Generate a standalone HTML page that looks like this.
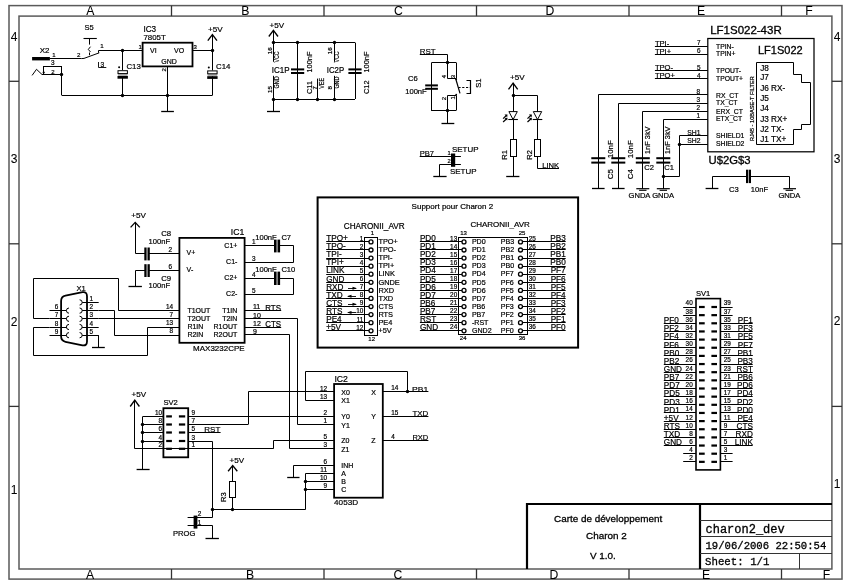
<!DOCTYPE html><html><head><meta charset="utf-8"><style>
html,body{margin:0;padding:0;background:#fff;}
svg{display:block;}
svg{will-change:transform;}
</style></head><body>
<svg width="850" height="587" viewBox="0 0 850 587">
<rect width="850" height="587" fill="#fff"/>
<rect x="9.00" y="5.60" width="833.00" height="573.50" fill="none" stroke="#5a5a5a" stroke-width="1.5"/>
<rect x="19.00" y="16.10" width="812.90" height="552.90" fill="none" stroke="#5a5a5a" stroke-width="1.5"/>
<line x1="171.5" y1="5.6" x2="171.5" y2="16.1" stroke="#333" stroke-width="1.3"/>
<line x1="171.5" y1="569" x2="171.5" y2="579.1" stroke="#333" stroke-width="1.3"/>
<line x1="324" y1="5.6" x2="324" y2="16.1" stroke="#333" stroke-width="1.3"/>
<line x1="324" y1="569" x2="324" y2="579.1" stroke="#333" stroke-width="1.3"/>
<line x1="476.5" y1="5.6" x2="476.5" y2="16.1" stroke="#333" stroke-width="1.3"/>
<line x1="476.5" y1="569" x2="476.5" y2="579.1" stroke="#333" stroke-width="1.3"/>
<line x1="629" y1="5.6" x2="629" y2="16.1" stroke="#333" stroke-width="1.3"/>
<line x1="629" y1="569" x2="629" y2="579.1" stroke="#333" stroke-width="1.3"/>
<line x1="781.5" y1="5.6" x2="781.5" y2="16.1" stroke="#333" stroke-width="1.3"/>
<line x1="781.5" y1="569" x2="781.5" y2="579.1" stroke="#333" stroke-width="1.3"/>
<line x1="9" y1="81.3" x2="19" y2="81.3" stroke="#333" stroke-width="1.3"/>
<line x1="831.9" y1="81.3" x2="842" y2="81.3" stroke="#333" stroke-width="1.3"/>
<line x1="9" y1="243.8" x2="19" y2="243.8" stroke="#333" stroke-width="1.3"/>
<line x1="831.9" y1="243.8" x2="842" y2="243.8" stroke="#333" stroke-width="1.3"/>
<line x1="9" y1="406.4" x2="19" y2="406.4" stroke="#333" stroke-width="1.3"/>
<line x1="831.9" y1="406.4" x2="842" y2="406.4" stroke="#333" stroke-width="1.3"/>
<text x="90.30" y="15.40" font-size="12.2" font-family="Liberation Sans" text-anchor="middle" fill="#000" stroke="#000" stroke-width="0.05">A</text>
<text x="245.20" y="15.40" font-size="12.2" font-family="Liberation Sans" text-anchor="middle" fill="#000" stroke="#000" stroke-width="0.05">B</text>
<text x="398.50" y="15.40" font-size="12.2" font-family="Liberation Sans" text-anchor="middle" fill="#000" stroke="#000" stroke-width="0.05">C</text>
<text x="550.00" y="15.40" font-size="12.2" font-family="Liberation Sans" text-anchor="middle" fill="#000" stroke="#000" stroke-width="0.05">D</text>
<text x="701.00" y="15.40" font-size="12.2" font-family="Liberation Sans" text-anchor="middle" fill="#000" stroke="#000" stroke-width="0.05">E</text>
<text x="809.00" y="15.40" font-size="12.2" font-family="Liberation Sans" text-anchor="middle" fill="#000" stroke="#000" stroke-width="0.05">F</text>
<text x="90.00" y="578.80" font-size="12.2" font-family="Liberation Sans" text-anchor="middle" fill="#000" stroke="#000" stroke-width="0.05">A</text>
<text x="250.00" y="578.80" font-size="12.2" font-family="Liberation Sans" text-anchor="middle" fill="#000" stroke="#000" stroke-width="0.05">B</text>
<text x="398.00" y="578.80" font-size="12.2" font-family="Liberation Sans" text-anchor="middle" fill="#000" stroke="#000" stroke-width="0.05">C</text>
<text x="554.00" y="578.80" font-size="12.2" font-family="Liberation Sans" text-anchor="middle" fill="#000" stroke="#000" stroke-width="0.05">D</text>
<text x="706.00" y="578.80" font-size="12.2" font-family="Liberation Sans" text-anchor="middle" fill="#000" stroke="#000" stroke-width="0.05">E</text>
<text x="826.50" y="578.80" font-size="12.2" font-family="Liberation Sans" text-anchor="middle" fill="#000" stroke="#000" stroke-width="0.05">F</text>
<text x="14.20" y="41.40" font-size="12" font-family="Liberation Sans" text-anchor="middle" fill="#000" stroke="#000" stroke-width="0.05">4</text>
<text x="14.20" y="163.00" font-size="12" font-family="Liberation Sans" text-anchor="middle" fill="#000" stroke="#000" stroke-width="0.05">3</text>
<text x="14.20" y="325.80" font-size="12" font-family="Liberation Sans" text-anchor="middle" fill="#000" stroke="#000" stroke-width="0.05">2</text>
<text x="14.20" y="494.00" font-size="12" font-family="Liberation Sans" text-anchor="middle" fill="#000" stroke="#000" stroke-width="0.05">1</text>
<text x="837.20" y="41.20" font-size="12" font-family="Liberation Sans" text-anchor="middle" fill="#000" stroke="#000" stroke-width="0.05">4</text>
<text x="837.20" y="162.80" font-size="12" font-family="Liberation Sans" text-anchor="middle" fill="#000" stroke="#000" stroke-width="0.05">3</text>
<text x="837.20" y="324.80" font-size="12" font-family="Liberation Sans" text-anchor="middle" fill="#000" stroke="#000" stroke-width="0.05">2</text>
<text x="837.20" y="487.70" font-size="12" font-family="Liberation Sans" text-anchor="middle" fill="#000" stroke="#000" stroke-width="0.05">1</text>
<line x1="526.00" y1="504.00" x2="832.00" y2="504.00" stroke="#000" stroke-width="2.2"/>
<line x1="527.00" y1="503.00" x2="527.00" y2="569.00" stroke="#000" stroke-width="2.2"/>
<line x1="700.00" y1="503.00" x2="700.00" y2="569.00" stroke="#000" stroke-width="2.2"/>
<line x1="700.00" y1="520.50" x2="832.00" y2="520.50" stroke="#333" stroke-width="1.0"/>
<line x1="700.00" y1="536.50" x2="832.00" y2="536.50" stroke="#333" stroke-width="1.0"/>
<line x1="700.00" y1="553.50" x2="832.00" y2="553.50" stroke="#333" stroke-width="1.0"/>
<line x1="799.50" y1="553.00" x2="799.50" y2="569.00" stroke="#333" stroke-width="1.0"/>
<text x="608.10" y="522.30" font-size="9.9" font-family="Liberation Sans" text-anchor="middle" fill="#000" stroke="#000" stroke-width="0.3">Carte de développement</text>
<text x="606.40" y="538.70" font-size="9.9" font-family="Liberation Sans" text-anchor="middle" fill="#000" stroke="#000" stroke-width="0.3">Charon 2</text>
<text x="602.80" y="558.70" font-size="9.9" font-family="Liberation Sans" text-anchor="middle" fill="#000" stroke="#000" stroke-width="0.3">V 1.0.</text>
<text x="705.50" y="533.00" font-size="12" font-family="Liberation Mono" text-anchor="start" fill="#000" stroke="#000" stroke-width="0.3">charon2_dev</text>
<text x="705.50" y="549.00" font-size="10.6" font-family="Liberation Mono" text-anchor="start" fill="#000" stroke="#000" stroke-width="0.3">19/06/2006 22:50:54</text>
<text x="705.00" y="565.20" font-size="11.8" font-family="Liberation Mono" text-anchor="start" fill="#000" textLength="64.5" lengthAdjust="spacingAndGlyphs" stroke="#000" stroke-width="0.3">Sheet: 1/1</text>
<rect x="32.10" y="57.00" width="17.80" height="3.40" fill="#000"/>
<line x1="49.90" y1="58.50" x2="81.50" y2="58.50" stroke="#000" stroke-width="1.0"/>
<text x="39.70" y="53.40" font-size="7.8" font-family="Liberation Sans" text-anchor="start" fill="#000" textLength="9.7" lengthAdjust="spacingAndGlyphs" stroke="#000" stroke-width="0.2">X2</text>
<text x="52.20" y="56.70" font-size="6" font-family="Liberation Sans" text-anchor="start" fill="#000" stroke="#000" stroke-width="0.2">1</text>
<rect x="43.50" y="66.50" width="18.00" height="8.00" fill="none" stroke="#000" stroke-width="1.0"/>
<text x="52.90" y="65.20" font-size="6.4" font-family="Liberation Sans" text-anchor="middle" fill="#000" stroke="#000" stroke-width="0.2">3</text>
<text x="52.90" y="73.60" font-size="6" font-family="Liberation Sans" text-anchor="middle" fill="#000" stroke="#000" stroke-width="0.2">2</text>
<polyline points="32.10,75.40 36.50,69.30 42.00,74.50 43.70,74.50" fill="none" stroke="#000" stroke-width="1.0"/>
<circle cx="43.70" cy="72.50" r="1.1" fill="#000"/>
<circle cx="61.50" cy="74.50" r="1.7" fill="#000"/>
<line x1="61.50" y1="74.90" x2="61.50" y2="95.20" stroke="#000" stroke-width="1.0"/>
<line x1="61.70" y1="95.50" x2="212.40" y2="95.50" stroke="#000" stroke-width="1.0"/>
<text x="84.40" y="30.40" font-size="7.8" font-family="Liberation Sans" text-anchor="start" fill="#000" textLength="9.2" lengthAdjust="spacingAndGlyphs" stroke="#000" stroke-width="0.2">S5</text>
<line x1="83.50" y1="38.50" x2="96.80" y2="38.50" stroke="#000" stroke-width="1.1"/>
<line x1="89.50" y1="38.30" x2="89.50" y2="44.60" stroke="#000" stroke-width="1.0"/>
<polyline points="90.50,46.70 88.30,49.40 90.50,52.00" fill="none" stroke="#000" stroke-width="1.0"/>
<line x1="89.50" y1="52.50" x2="89.50" y2="55.20" stroke="#000" stroke-width="1.0"/>
<polyline points="81.50,58.60 84.00,58.40 99.30,52.80" fill="none" stroke="#000" stroke-width="1.0"/>
<polyline points="98.50,52.80 98.50,50.50 122.70,50.50" fill="none" stroke="#000" stroke-width="1.0"/>
<text x="77.00" y="56.90" font-size="6.2" font-family="Liberation Sans" text-anchor="start" fill="#000" stroke="#000" stroke-width="0.2">2</text>
<text x="100.20" y="48.40" font-size="6.2" font-family="Liberation Sans" text-anchor="start" fill="#000" stroke="#000" stroke-width="0.2">1</text>
<polyline points="98.50,62.00 98.50,67.50 106.30,67.50" fill="none" stroke="#000" stroke-width="0.9"/>
<text x="100.40" y="66.60" font-size="6.6" font-family="Liberation Sans" text-anchor="start" fill="#000" stroke="#000" stroke-width="0.2">3</text>
<circle cx="122.50" cy="50.50" r="1.7" fill="#000"/>
<line x1="122.70" y1="50.50" x2="142.60" y2="50.50" stroke="#000" stroke-width="1.0"/>
<rect x="142.60" y="42.70" width="49.90" height="23.70" fill="none" stroke="#000" stroke-width="1.8"/>
<text x="143.40" y="31.70" font-size="8.2" font-family="Liberation Sans" text-anchor="start" fill="#000" stroke="#000" stroke-width="0.2">IC3</text>
<text x="143.40" y="39.90" font-size="8.0" font-family="Liberation Sans" text-anchor="start" fill="#000" textLength="22.3" lengthAdjust="spacingAndGlyphs" stroke="#000" stroke-width="0.2">7805T</text>
<text x="150.00" y="53.00" font-size="7" font-family="Liberation Sans" text-anchor="start" fill="#000" stroke="#000" stroke-width="0.2">VI</text>
<text x="174.00" y="53.00" font-size="7" font-family="Liberation Sans" text-anchor="start" fill="#000" stroke="#000" stroke-width="0.2">VO</text>
<text x="161.30" y="64.40" font-size="7" font-family="Liberation Sans" text-anchor="start" fill="#000" stroke="#000" stroke-width="0.2">GND</text>
<text x="138.60" y="48.80" font-size="6" font-family="Liberation Sans" text-anchor="start" fill="#000" stroke="#000" stroke-width="0.2">1</text>
<text x="193.60" y="48.80" font-size="6" font-family="Liberation Sans" text-anchor="start" fill="#000" stroke="#000" stroke-width="0.2">3</text>
<text x="166.30" y="71.60" font-size="6" font-family="Liberation Sans" text-anchor="start" fill="#000" transform="rotate(-90 166.30 71.60)" stroke="#000" stroke-width="0.2">2</text>
<line x1="192.50" y1="50.50" x2="212.40" y2="50.50" stroke="#000" stroke-width="1.0"/>
<circle cx="212.50" cy="50.50" r="1.7" fill="#000"/>
<polyline points="207.80,40.70 212.40,34.60 217.00,40.70" fill="none" stroke="#000" stroke-width="1.35"/>
<text x="208.00" y="32.00" font-size="7.8" font-family="Liberation Sans" text-anchor="start" fill="#000" textLength="14.6" lengthAdjust="spacingAndGlyphs" stroke="#000" stroke-width="0.2">+5V</text>
<line x1="212.50" y1="34.60" x2="212.50" y2="95.20" stroke="#000" stroke-width="1.0"/>
<line x1="122.50" y1="50.50" x2="122.50" y2="95.20" stroke="#000" stroke-width="1.0"/>
<line x1="212.50" y1="50.50" x2="212.50" y2="95.20" stroke="#000" stroke-width="1.0"/>
<rect x="117.40" y="70.20" width="10.60" height="5.80" fill="#fff"/>
<rect x="117.90" y="73.60" width="9.60" height="2.40" fill="#b0b0b0"/>
<rect x="118.00" y="70.70" width="9.4" height="2.9" fill="none" stroke="#000" stroke-width="1.0"/>
<rect x="117.50" y="76.00" width="10.40" height="2.70" fill="#000"/>
<circle cx="119.10" cy="67.20" r="1.0" fill="#000"/>
<rect x="207.10" y="70.40" width="10.60" height="5.80" fill="#fff"/>
<rect x="207.60" y="73.80" width="9.60" height="2.40" fill="#b0b0b0"/>
<rect x="207.70" y="70.90" width="9.4" height="2.9" fill="none" stroke="#000" stroke-width="1.0"/>
<rect x="207.20" y="76.20" width="10.40" height="2.70" fill="#000"/>
<circle cx="208.80" cy="67.40" r="1.0" fill="#000"/>
<text x="126.40" y="69.00" font-size="8.0" font-family="Liberation Sans" text-anchor="start" fill="#000" textLength="14.4" lengthAdjust="spacingAndGlyphs" stroke="#000" stroke-width="0.2">C13</text>
<text x="216.00" y="69.00" font-size="8.0" font-family="Liberation Sans" text-anchor="start" fill="#000" textLength="14.4" lengthAdjust="spacingAndGlyphs" stroke="#000" stroke-width="0.2">C14</text>
<line x1="167.50" y1="66.40" x2="167.50" y2="111.40" stroke="#000" stroke-width="1.0"/>
<circle cx="122.50" cy="95.50" r="1.7" fill="#000"/>
<circle cx="167.50" cy="95.50" r="1.7" fill="#000"/>
<line x1="161.20" y1="111.50" x2="173.90" y2="111.50" stroke="#000" stroke-width="1.3"/>
<polyline points="268.80,36.50 273.40,30.30 278.00,36.50" fill="none" stroke="#000" stroke-width="1.35"/>
<text x="269.60" y="27.60" font-size="7.8" font-family="Liberation Sans" text-anchor="start" fill="#000" textLength="14.6" lengthAdjust="spacingAndGlyphs" stroke="#000" stroke-width="0.2">+5V</text>
<line x1="273.50" y1="30.30" x2="273.50" y2="61.80" stroke="#000" stroke-width="1.0"/>
<line x1="273.50" y1="75.80" x2="273.50" y2="111.00" stroke="#000" stroke-width="1.0"/>
<line x1="267.00" y1="111.50" x2="280.00" y2="111.50" stroke="#000" stroke-width="1.3"/>
<line x1="273.40" y1="42.50" x2="355.00" y2="42.50" stroke="#000" stroke-width="1.0"/>
<line x1="273.40" y1="99.50" x2="355.00" y2="99.50" stroke="#000" stroke-width="1.0"/>
<circle cx="273.50" cy="42.50" r="1.7" fill="#000"/>
<circle cx="297.50" cy="42.50" r="1.7" fill="#000"/>
<circle cx="334.50" cy="42.50" r="1.7" fill="#000"/>
<circle cx="273.50" cy="99.50" r="1.7" fill="#000"/>
<circle cx="297.50" cy="99.50" r="1.7" fill="#000"/>
<circle cx="317.50" cy="99.50" r="1.7" fill="#000"/>
<circle cx="334.50" cy="99.50" r="1.7" fill="#000"/>
<line x1="297.50" y1="42.60" x2="297.50" y2="99.00" stroke="#000" stroke-width="1.0"/>
<line x1="355.50" y1="42.60" x2="355.50" y2="99.00" stroke="#000" stroke-width="1.0"/>
<line x1="334.50" y1="42.60" x2="334.50" y2="61.80" stroke="#000" stroke-width="1.0"/>
<line x1="334.50" y1="75.80" x2="334.50" y2="99.00" stroke="#000" stroke-width="1.0"/>
<line x1="317.50" y1="78.60" x2="317.50" y2="99.00" stroke="#000" stroke-width="1.0"/>
<text x="271.70" y="72.80" font-size="8.4" font-family="Liberation Sans" text-anchor="start" fill="#000" textLength="17.8" lengthAdjust="spacingAndGlyphs" stroke="#000" stroke-width="0.2">IC1P</text>
<text x="326.80" y="72.80" font-size="8.4" font-family="Liberation Sans" text-anchor="start" fill="#000" textLength="17.4" lengthAdjust="spacingAndGlyphs" stroke="#000" stroke-width="0.2">IC2P</text>
<rect x="291.00" y="68.40" width="13.20" height="2.00" fill="#000"/>
<rect x="291.00" y="72.00" width="13.20" height="2.00" fill="#000"/>
<rect x="348.40" y="68.40" width="13.20" height="2.00" fill="#000"/>
<rect x="348.40" y="72.00" width="13.20" height="2.00" fill="#000"/>
<text x="271.80" y="54.30" font-size="6.2" font-family="Liberation Sans" text-anchor="start" fill="#000" transform="rotate(-90 271.80 54.30)" stroke="#000" stroke-width="0.2">16</text>
<text x="279.00" y="62.40" font-size="6.6" font-family="Liberation Sans" text-anchor="start" fill="#000" transform="rotate(-90 279.00 62.40)" textLength="11.0" lengthAdjust="spacingAndGlyphs" stroke="#000" stroke-width="0.2">VCC</text>
<text x="279.00" y="88.40" font-size="6.6" font-family="Liberation Sans" text-anchor="start" fill="#000" transform="rotate(-90 279.00 88.40)" textLength="12.0" lengthAdjust="spacingAndGlyphs" stroke="#000" stroke-width="0.2">GND</text>
<text x="271.80" y="93.00" font-size="6.2" font-family="Liberation Sans" text-anchor="start" fill="#000" transform="rotate(-90 271.80 93.00)" stroke="#000" stroke-width="0.2">15</text>
<text x="332.40" y="54.30" font-size="6.2" font-family="Liberation Sans" text-anchor="start" fill="#000" transform="rotate(-90 332.40 54.30)" stroke="#000" stroke-width="0.2">16</text>
<text x="339.40" y="62.40" font-size="6.6" font-family="Liberation Sans" text-anchor="start" fill="#000" transform="rotate(-90 339.40 62.40)" textLength="11.0" lengthAdjust="spacingAndGlyphs" stroke="#000" stroke-width="0.2">VCC</text>
<text x="339.40" y="88.60" font-size="6.6" font-family="Liberation Sans" text-anchor="start" fill="#000" transform="rotate(-90 339.40 88.60)" textLength="12.0" lengthAdjust="spacingAndGlyphs" stroke="#000" stroke-width="0.2">GND</text>
<text x="332.40" y="89.40" font-size="6.2" font-family="Liberation Sans" text-anchor="start" fill="#000" transform="rotate(-90 332.40 89.40)" stroke="#000" stroke-width="0.2">8</text>
<text x="312.00" y="72.50" font-size="7.4" font-family="Liberation Sans" text-anchor="start" fill="#000" transform="rotate(-90 312.00 72.50)" stroke="#000" stroke-width="0.2">100nF</text>
<text x="312.00" y="94.00" font-size="7.4" font-family="Liberation Sans" text-anchor="start" fill="#000" transform="rotate(-90 312.00 94.00)" stroke="#000" stroke-width="0.2">C11</text>
<text x="324.00" y="88.80" font-size="6.6" font-family="Liberation Sans" text-anchor="start" fill="#000" transform="rotate(-90 324.00 88.80)" textLength="10.8" lengthAdjust="spacingAndGlyphs" stroke="#000" stroke-width="0.2">VEE</text>
<text x="316.80" y="89.60" font-size="5.8" font-family="Liberation Sans" text-anchor="start" fill="#000" transform="rotate(-90 316.80 89.60)" stroke="#000" stroke-width="0.2">7</text>
<text x="369.00" y="72.50" font-size="7.4" font-family="Liberation Sans" text-anchor="start" fill="#000" transform="rotate(-90 369.00 72.50)" stroke="#000" stroke-width="0.2">100nF</text>
<text x="369.00" y="94.00" font-size="7.4" font-family="Liberation Sans" text-anchor="start" fill="#000" transform="rotate(-90 369.00 94.00)" stroke="#000" stroke-width="0.2">C12</text>
<text x="419.70" y="54.30" font-size="8.0" font-family="Liberation Sans" text-anchor="start" fill="#000" textLength="15.8" lengthAdjust="spacingAndGlyphs" stroke="#000" stroke-width="0.2">RST</text>
<polyline points="419.80,54.50 447.50,54.50 447.50,62.70" fill="none" stroke="#000" stroke-width="1.0"/>
<line x1="431.50" y1="62.50" x2="456.00" y2="62.50" stroke="#000" stroke-width="1.0"/>
<circle cx="447.50" cy="62.50" r="1.7" fill="#000"/>
<line x1="431.50" y1="62.70" x2="431.50" y2="110.90" stroke="#000" stroke-width="1.0"/>
<rect x="425.20" y="84.40" width="12.70" height="2.00" fill="#000"/>
<rect x="425.20" y="87.80" width="12.70" height="2.00" fill="#000"/>
<text x="408.00" y="81.00" font-size="7.6" font-family="Liberation Sans" text-anchor="start" fill="#000" stroke="#000" stroke-width="0.2">C6</text>
<text x="405.20" y="93.90" font-size="7.6" font-family="Liberation Sans" text-anchor="start" fill="#000" stroke="#000" stroke-width="0.2">100nF</text>
<polyline points="447.50,62.50 447.50,78.50 456.50,78.50 456.50,62.50" fill="none" stroke="#000" stroke-width="1.0"/>
<polyline points="447.50,110.50 447.50,95.50 456.50,95.50 456.50,110.50" fill="none" stroke="#000" stroke-width="1.0"/>
<line x1="455.80" y1="79.00" x2="460.00" y2="93.30" stroke="#000" stroke-width="1.2"/>
<circle cx="456.20" cy="79.30" r="0.9" fill="#000"/>
<circle cx="456.20" cy="94.60" r="0.9" fill="#000"/>
<line x1="458.4" y1="87.5" x2="470.5" y2="87.5" stroke="#000" stroke-width="1" stroke-dasharray="2.2,1.6"/>
<polyline points="466.50,80.50 470.50,80.50 470.50,93.50 466.50,93.50" fill="none" stroke="#000" stroke-width="1.2"/>
<text x="481.30" y="87.80" font-size="7.6" font-family="Liberation Sans" text-anchor="start" fill="#000" transform="rotate(-90 481.30 87.80)" stroke="#000" stroke-width="0.2">S1</text>
<text x="446.30" y="78.20" font-size="6" font-family="Liberation Sans" text-anchor="start" fill="#000" transform="rotate(-90 446.30 78.20)" stroke="#000" stroke-width="0.2">4</text>
<text x="455.30" y="78.20" font-size="6" font-family="Liberation Sans" text-anchor="start" fill="#000" transform="rotate(-90 455.30 78.20)" stroke="#000" stroke-width="0.2">3</text>
<text x="446.30" y="100.20" font-size="6" font-family="Liberation Sans" text-anchor="start" fill="#000" transform="rotate(-90 446.30 100.20)" stroke="#000" stroke-width="0.2">2</text>
<text x="455.30" y="99.60" font-size="6" font-family="Liberation Sans" text-anchor="start" fill="#000" transform="rotate(-90 455.30 99.60)" stroke="#000" stroke-width="0.2">1</text>
<line x1="431.50" y1="110.50" x2="456.00" y2="110.50" stroke="#000" stroke-width="1.0"/>
<circle cx="447.50" cy="110.50" r="1.7" fill="#000"/>
<line x1="447.50" y1="110.90" x2="447.50" y2="123.40" stroke="#000" stroke-width="1.0"/>
<line x1="441.50" y1="123.50" x2="454.30" y2="123.50" stroke="#000" stroke-width="1.3"/>
<text x="419.70" y="155.70" font-size="7.6" font-family="Liberation Sans" text-anchor="start" fill="#000" stroke="#000" stroke-width="0.2">PB7</text>
<line x1="419.70" y1="156.50" x2="452.00" y2="156.50" stroke="#000" stroke-width="1.0"/>
<rect x="451.00" y="153.50" width="4.20" height="13.30" fill="#000"/>
<line x1="454.60" y1="156.50" x2="460.90" y2="156.50" stroke="#000" stroke-width="1.0"/>
<line x1="454.60" y1="164.50" x2="460.90" y2="164.50" stroke="#000" stroke-width="1.0"/>
<text x="447.40" y="155.00" font-size="5.8" font-family="Liberation Sans" text-anchor="start" fill="#000" stroke="#000" stroke-width="0.2">1</text>
<text x="447.40" y="163.00" font-size="5.8" font-family="Liberation Sans" text-anchor="start" fill="#000" stroke="#000" stroke-width="0.2">2</text>
<text x="452.00" y="152.30" font-size="8.0" font-family="Liberation Sans" text-anchor="start" fill="#000" textLength="26.5" lengthAdjust="spacingAndGlyphs" stroke="#000" stroke-width="0.2">SETUP</text>
<text x="450.00" y="174.00" font-size="8.0" font-family="Liberation Sans" text-anchor="start" fill="#000" textLength="26.5" lengthAdjust="spacingAndGlyphs" stroke="#000" stroke-width="0.2">SETUP</text>
<polyline points="452.00,164.50 439.50,164.50 439.50,176.10" fill="none" stroke="#000" stroke-width="1.0"/>
<line x1="433.30" y1="176.50" x2="446.60" y2="176.50" stroke="#000" stroke-width="1.3"/>
<polyline points="508.50,89.40 513.10,83.20 517.70,89.40" fill="none" stroke="#000" stroke-width="1.35"/>
<text x="510.00" y="80.40" font-size="7.8" font-family="Liberation Sans" text-anchor="start" fill="#000" textLength="14.6" lengthAdjust="spacingAndGlyphs" stroke="#000" stroke-width="0.2">+5V</text>
<line x1="513.50" y1="83.20" x2="513.50" y2="176.50" stroke="#000" stroke-width="1.0"/>
<polyline points="513.10,95.50 537.50,95.50 537.50,168.50 559.00,168.50" fill="none" stroke="#000" stroke-width="1.0"/>
<circle cx="513.50" cy="95.50" r="1.7" fill="#000"/>
<polygon points="508.90,111.6 517.30,111.6 513.10,119.6" fill="#fff" stroke="#000" stroke-width="1"/>
<line x1="508.30" y1="119.50" x2="517.90" y2="119.50" stroke="#000" stroke-width="1.1"/>
<line x1="503.10" y1="118.6" x2="506.60" y2="115.3" stroke="#000" stroke-width="1.2"/>
<line x1="503.10" y1="122" x2="506.60" y2="118.7" stroke="#000" stroke-width="1.2"/>
<polygon points="504.50,114.6 507.50,114.4 507.20,117.2" fill="#000"/>
<polygon points="504.50,118.0 507.50,117.8 507.20,120.6" fill="#000"/>
<rect x="510.50" y="139.50" width="6.00" height="17.00" fill="#fff" stroke="#000" stroke-width="1.0"/>
<polygon points="533.30,111.6 541.70,111.6 537.50,119.6" fill="#fff" stroke="#000" stroke-width="1"/>
<line x1="532.70" y1="119.50" x2="542.30" y2="119.50" stroke="#000" stroke-width="1.1"/>
<line x1="527.50" y1="118.6" x2="531.00" y2="115.3" stroke="#000" stroke-width="1.2"/>
<line x1="527.50" y1="122" x2="531.00" y2="118.7" stroke="#000" stroke-width="1.2"/>
<polygon points="528.90,114.6 531.90,114.4 531.60,117.2" fill="#000"/>
<polygon points="528.90,118.0 531.90,117.8 531.60,120.6" fill="#000"/>
<rect x="534.50" y="139.50" width="6.00" height="17.00" fill="#fff" stroke="#000" stroke-width="1.0"/>
<text x="507.50" y="159.70" font-size="7.6" font-family="Liberation Sans" text-anchor="start" fill="#000" transform="rotate(-90 507.50 159.70)" stroke="#000" stroke-width="0.2">R1</text>
<text x="531.90" y="159.70" font-size="7.6" font-family="Liberation Sans" text-anchor="start" fill="#000" transform="rotate(-90 531.90 159.70)" stroke="#000" stroke-width="0.2">R2</text>
<text x="542.20" y="167.60" font-size="7.6" font-family="Liberation Sans" text-anchor="start" fill="#000" stroke="#000" stroke-width="0.2">LINK</text>
<line x1="506.20" y1="176.50" x2="519.40" y2="176.50" stroke="#000" stroke-width="1.3"/>
<text x="710.20" y="34.30" font-size="11" font-family="Liberation Sans" text-anchor="start" fill="#000" textLength="71.5" lengthAdjust="spacingAndGlyphs" stroke="#000" stroke-width="0.3">LF1S022-43R</text>
<rect x="707.80" y="38.50" width="106.20" height="113.30" fill="none" stroke="#000" stroke-width="1.25"/>
<text x="758.00" y="54.40" font-size="11" font-family="Liberation Sans" text-anchor="start" fill="#000" stroke="#000" stroke-width="0.3">LF1S022</text>
<polygon points="756.50,62.50 793.50,62.50 793.50,74.50 801.50,74.50 801.50,82.50 810.50,82.50 810.50,124.50 801.50,124.50 801.50,129.50 793.50,129.50 793.50,144.50 756.50,144.50" fill="none" stroke="#000" stroke-width="1.0"/>
<text x="760.20" y="71.00" font-size="8.2" font-family="Liberation Sans" text-anchor="start" fill="#000" stroke="#000" stroke-width="0.2">J8</text>
<text x="760.20" y="79.80" font-size="8.2" font-family="Liberation Sans" text-anchor="start" fill="#000" stroke="#000" stroke-width="0.2">J7</text>
<text x="760.20" y="91.00" font-size="8.2" font-family="Liberation Sans" text-anchor="start" fill="#000" stroke="#000" stroke-width="0.2">J6 RX-</text>
<text x="760.20" y="100.90" font-size="8.2" font-family="Liberation Sans" text-anchor="start" fill="#000" stroke="#000" stroke-width="0.2">J5</text>
<text x="760.20" y="110.80" font-size="8.2" font-family="Liberation Sans" text-anchor="start" fill="#000" stroke="#000" stroke-width="0.2">J4</text>
<text x="760.20" y="121.90" font-size="8.2" font-family="Liberation Sans" text-anchor="start" fill="#000" stroke="#000" stroke-width="0.2">J3 RX+</text>
<text x="760.20" y="131.90" font-size="8.2" font-family="Liberation Sans" text-anchor="start" fill="#000" stroke="#000" stroke-width="0.2">J2 TX-</text>
<text x="760.20" y="141.80" font-size="8.2" font-family="Liberation Sans" text-anchor="start" fill="#000" stroke="#000" stroke-width="0.2">J1 TX+</text>
<text x="716.00" y="48.60" font-size="6.8" font-family="Liberation Sans" text-anchor="start" fill="#000" stroke="#000" stroke-width="0.2">TPIN-</text>
<text x="716.00" y="56.00" font-size="6.8" font-family="Liberation Sans" text-anchor="start" fill="#000" stroke="#000" stroke-width="0.2">TPIN+</text>
<text x="716.00" y="72.70" font-size="6.8" font-family="Liberation Sans" text-anchor="start" fill="#000" stroke="#000" stroke-width="0.2">TPOUT-</text>
<text x="716.00" y="81.00" font-size="6.8" font-family="Liberation Sans" text-anchor="start" fill="#000" stroke="#000" stroke-width="0.2">TPOUT+</text>
<text x="716.00" y="97.50" font-size="6.8" font-family="Liberation Sans" text-anchor="start" fill="#000" stroke="#000" stroke-width="0.2">RX_CT</text>
<text x="716.00" y="104.80" font-size="6.8" font-family="Liberation Sans" text-anchor="start" fill="#000" stroke="#000" stroke-width="0.2">TX_CT</text>
<text x="716.00" y="113.70" font-size="6.8" font-family="Liberation Sans" text-anchor="start" fill="#000" stroke="#000" stroke-width="0.2">ERX_CT</text>
<text x="716.00" y="121.30" font-size="6.8" font-family="Liberation Sans" text-anchor="start" fill="#000" stroke="#000" stroke-width="0.2">ETX_CT</text>
<text x="716.00" y="137.90" font-size="6.8" font-family="Liberation Sans" text-anchor="start" fill="#000" stroke="#000" stroke-width="0.2">SHIELD1</text>
<text x="716.00" y="146.30" font-size="6.8" font-family="Liberation Sans" text-anchor="start" fill="#000" stroke="#000" stroke-width="0.2">SHIELD2</text>
<text x="753.60" y="141.00" font-size="5.6" font-family="Liberation Sans" text-anchor="start" fill="#000" transform="rotate(-90 753.60 141.00)" stroke="#000" stroke-width="0.2">RJ45 - 10BASE-T FILTER</text>
<text x="708.60" y="164.30" font-size="10.7" font-family="Liberation Sans" text-anchor="start" fill="#000" textLength="42" lengthAdjust="spacingAndGlyphs" stroke="#000" stroke-width="0.3">U$2G$3</text>
<line x1="654.90" y1="46.50" x2="707.80" y2="46.50" stroke="#000" stroke-width="1.0"/>
<text x="654.90" y="45.60" font-size="7.6" font-family="Liberation Sans" text-anchor="start" fill="#000" stroke="#000" stroke-width="0.2">TPI-</text>
<text x="698.70" y="45.20" font-size="6.4" font-family="Liberation Sans" text-anchor="middle" fill="#000" stroke="#000" stroke-width="0.2">7</text>
<line x1="654.90" y1="54.50" x2="707.80" y2="54.50" stroke="#000" stroke-width="1.0"/>
<text x="654.90" y="53.70" font-size="7.6" font-family="Liberation Sans" text-anchor="start" fill="#000" stroke="#000" stroke-width="0.2">TPI+</text>
<text x="698.70" y="53.30" font-size="6.4" font-family="Liberation Sans" text-anchor="middle" fill="#000" stroke="#000" stroke-width="0.2">6</text>
<line x1="654.90" y1="70.50" x2="707.80" y2="70.50" stroke="#000" stroke-width="1.0"/>
<text x="654.90" y="70.10" font-size="7.6" font-family="Liberation Sans" text-anchor="start" fill="#000" stroke="#000" stroke-width="0.2">TPO-</text>
<text x="698.70" y="69.70" font-size="6.4" font-family="Liberation Sans" text-anchor="middle" fill="#000" stroke="#000" stroke-width="0.2">5</text>
<line x1="654.90" y1="78.50" x2="707.80" y2="78.50" stroke="#000" stroke-width="1.0"/>
<text x="654.90" y="77.90" font-size="7.6" font-family="Liberation Sans" text-anchor="start" fill="#000" stroke="#000" stroke-width="0.2">TPO+</text>
<text x="698.70" y="77.50" font-size="6.4" font-family="Liberation Sans" text-anchor="middle" fill="#000" stroke="#000" stroke-width="0.2">4</text>
<polyline points="598.50,188.80 598.50,94.50 707.80,94.50" fill="none" stroke="#000" stroke-width="1.0"/>
<text x="698.40" y="93.50" font-size="6.4" font-family="Liberation Sans" text-anchor="middle" fill="#000" stroke="#000" stroke-width="0.2">8</text>
<polyline points="618.50,188.80 618.50,103.50 707.80,103.50" fill="none" stroke="#000" stroke-width="1.0"/>
<text x="698.40" y="102.10" font-size="6.4" font-family="Liberation Sans" text-anchor="middle" fill="#000" stroke="#000" stroke-width="0.2">3</text>
<polyline points="642.50,188.80 642.50,111.50 707.80,111.50" fill="none" stroke="#000" stroke-width="1.0"/>
<text x="698.40" y="110.30" font-size="6.4" font-family="Liberation Sans" text-anchor="middle" fill="#000" stroke="#000" stroke-width="0.2">2</text>
<polyline points="663.50,188.80 663.50,119.50 707.80,119.50" fill="none" stroke="#000" stroke-width="1.0"/>
<text x="698.40" y="118.45" font-size="6.4" font-family="Liberation Sans" text-anchor="middle" fill="#000" stroke="#000" stroke-width="0.2">1</text>
<rect x="591.30" y="157.20" width="14.00" height="2.00" fill="#000"/>
<rect x="591.30" y="161.60" width="14.00" height="2.00" fill="#000"/>
<rect x="611.30" y="157.20" width="14.00" height="2.00" fill="#000"/>
<rect x="611.30" y="161.60" width="14.00" height="2.00" fill="#000"/>
<rect x="635.80" y="157.20" width="14.00" height="2.00" fill="#000"/>
<rect x="635.80" y="161.60" width="14.00" height="2.00" fill="#000"/>
<rect x="656.30" y="157.20" width="14.00" height="2.00" fill="#000"/>
<rect x="656.30" y="161.60" width="14.00" height="2.00" fill="#000"/>
<line x1="592.00" y1="188.50" x2="604.60" y2="188.50" stroke="#000" stroke-width="1.3"/>
<line x1="612.00" y1="188.50" x2="624.60" y2="188.50" stroke="#000" stroke-width="1.3"/>
<line x1="636.30" y1="188.7" x2="649.30" y2="188.7" stroke="#000" stroke-width="1.2"/>
<line x1="639.10" y1="190.3" x2="646.50" y2="190.3" stroke="#000" stroke-width="1.1"/>
<line x1="656.80" y1="188.7" x2="669.80" y2="188.7" stroke="#000" stroke-width="1.2"/>
<line x1="659.60" y1="190.3" x2="667.00" y2="190.3" stroke="#000" stroke-width="1.1"/>
<text x="628.50" y="197.80" font-size="7.6" font-family="Liberation Sans" text-anchor="start" fill="#000" stroke="#000" stroke-width="0.2">GNDA GNDA</text>
<polyline points="679.40,135.50 707.80,135.50" fill="none" stroke="#000" stroke-width="1.0"/>
<line x1="679.40" y1="144.50" x2="707.80" y2="144.50" stroke="#000" stroke-width="1.0"/>
<polyline points="679.50,135.70 679.50,176.50 663.30,176.50" fill="none" stroke="#000" stroke-width="1.0"/>
<circle cx="679.50" cy="144.50" r="1.7" fill="#000"/>
<circle cx="663.50" cy="176.50" r="1.7" fill="#000"/>
<text x="687.20" y="135.00" font-size="6.8" font-family="Liberation Sans" text-anchor="start" fill="#000" stroke="#000" stroke-width="0.2">SH1</text>
<text x="687.20" y="143.30" font-size="6.8" font-family="Liberation Sans" text-anchor="start" fill="#000" stroke="#000" stroke-width="0.2">SH2</text>
<text x="613.30" y="158.20" font-size="7.9" font-family="Liberation Sans" text-anchor="start" fill="#000" transform="rotate(-90 613.30 158.20)" stroke="#000" stroke-width="0.2">10nF</text>
<text x="613.30" y="179.20" font-size="7.9" font-family="Liberation Sans" text-anchor="start" fill="#000" transform="rotate(-90 613.30 179.20)" stroke="#000" stroke-width="0.2">C5</text>
<text x="633.30" y="158.20" font-size="7.9" font-family="Liberation Sans" text-anchor="start" fill="#000" transform="rotate(-90 633.30 158.20)" stroke="#000" stroke-width="0.2">10nF</text>
<text x="633.30" y="179.20" font-size="7.9" font-family="Liberation Sans" text-anchor="start" fill="#000" transform="rotate(-90 633.30 179.20)" stroke="#000" stroke-width="0.2">C4</text>
<text x="650.00" y="154.00" font-size="7.4" font-family="Liberation Sans" text-anchor="start" fill="#000" transform="rotate(-90 650.00 154.00)" stroke="#000" stroke-width="0.2">1nF 3kV</text>
<text x="669.50" y="154.00" font-size="7.4" font-family="Liberation Sans" text-anchor="start" fill="#000" transform="rotate(-90 669.50 154.00)" stroke="#000" stroke-width="0.2">1nF 3kV</text>
<text x="644.30" y="170.40" font-size="7.6" font-family="Liberation Sans" text-anchor="start" fill="#000" stroke="#000" stroke-width="0.2">C2</text>
<text x="664.30" y="170.40" font-size="7.6" font-family="Liberation Sans" text-anchor="start" fill="#000" stroke="#000" stroke-width="0.2">C1</text>
<polyline points="712.50,188.80 712.50,176.50 747.00,176.50" fill="none" stroke="#000" stroke-width="1.0"/>
<line x1="705.60" y1="188.50" x2="718.40" y2="188.50" stroke="#000" stroke-width="1.3"/>
<polyline points="749.70,176.50 789.50,176.50 789.50,188.50" fill="none" stroke="#000" stroke-width="1.0"/>
<rect x="746.00" y="169.70" width="2.20" height="13.40" fill="#000"/>
<rect x="748.80" y="169.70" width="2.20" height="13.40" fill="#000"/>
<line x1="783.3" y1="188.7" x2="796" y2="188.7" stroke="#000" stroke-width="1.2"/>
<line x1="785.6" y1="190.3" x2="793" y2="190.3" stroke="#000" stroke-width="1.1"/>
<text x="729.00" y="191.60" font-size="7.6" font-family="Liberation Sans" text-anchor="start" fill="#000" stroke="#000" stroke-width="0.2">C3</text>
<text x="750.80" y="191.60" font-size="7.6" font-family="Liberation Sans" text-anchor="start" fill="#000" stroke="#000" stroke-width="0.2">10nF</text>
<text x="778.40" y="198.00" font-size="7.6" font-family="Liberation Sans" text-anchor="start" fill="#000" stroke="#000" stroke-width="0.2">GNDA</text>
<rect x="317.60" y="197.40" width="260.50" height="150.20" fill="none" stroke="#000" stroke-width="2.0"/>
<text x="411.60" y="208.50" font-size="7.4" font-family="Liberation Sans" text-anchor="start" fill="#000" textLength="81.5" lengthAdjust="spacingAndGlyphs" stroke="#000" stroke-width="0.2">Support pour Charon 2</text>
<text x="343.80" y="229.20" font-size="8.2" font-family="Liberation Sans" text-anchor="start" fill="#000" stroke="#000" stroke-width="0.2">CHARONII_AVR</text>
<text x="470.40" y="227.20" font-size="8.0" font-family="Liberation Sans" text-anchor="start" fill="#000" stroke="#000" stroke-width="0.2">CHARONII_AVR</text>
<rect x="364.50" y="237.50" width="13.00" height="98.00" fill="none" stroke="#000" stroke-width="1.0"/>
<text x="372.30" y="234.80" font-size="6" font-family="Liberation Sans" text-anchor="middle" fill="#000" stroke="#000" stroke-width="0.2">1</text>
<text x="371.70" y="340.80" font-size="6" font-family="Liberation Sans" text-anchor="middle" fill="#000" stroke="#000" stroke-width="0.2">12</text>
<line x1="326.20" y1="241.50" x2="369.20" y2="241.50" stroke="#000" stroke-width="1.0"/>
<circle cx="371" cy="241.90" r="2.0" fill="#fff" stroke="#000" stroke-width="1.3"/>
<text x="326.20" y="241.10" font-size="8.2" font-family="Liberation Sans" text-anchor="start" fill="#000" stroke="#000" stroke-width="0.2">TPO+</text>
<text x="363.30" y="240.70" font-size="6.4" font-family="Liberation Sans" text-anchor="end" fill="#000" stroke="#000" stroke-width="0.2">1</text>
<text x="378.40" y="244.10" font-size="7.4" font-family="Liberation Sans" text-anchor="start" fill="#000" stroke="#000" stroke-width="0.2">TPO+</text>
<line x1="326.20" y1="249.50" x2="369.20" y2="249.50" stroke="#000" stroke-width="1.0"/>
<circle cx="371" cy="249.98" r="2.0" fill="#fff" stroke="#000" stroke-width="1.3"/>
<text x="326.20" y="249.18" font-size="8.2" font-family="Liberation Sans" text-anchor="start" fill="#000" stroke="#000" stroke-width="0.2">TPO-</text>
<text x="363.30" y="248.78" font-size="6.4" font-family="Liberation Sans" text-anchor="end" fill="#000" stroke="#000" stroke-width="0.2">2</text>
<text x="378.40" y="252.18" font-size="7.4" font-family="Liberation Sans" text-anchor="start" fill="#000" stroke="#000" stroke-width="0.2">TPO-</text>
<line x1="326.20" y1="258.50" x2="369.20" y2="258.50" stroke="#000" stroke-width="1.0"/>
<circle cx="371" cy="258.06" r="2.0" fill="#fff" stroke="#000" stroke-width="1.3"/>
<text x="326.20" y="257.26" font-size="8.2" font-family="Liberation Sans" text-anchor="start" fill="#000" stroke="#000" stroke-width="0.2">TPI-</text>
<text x="363.30" y="256.86" font-size="6.4" font-family="Liberation Sans" text-anchor="end" fill="#000" stroke="#000" stroke-width="0.2">3</text>
<text x="378.40" y="260.26" font-size="7.4" font-family="Liberation Sans" text-anchor="start" fill="#000" stroke="#000" stroke-width="0.2">TPI-</text>
<line x1="326.20" y1="266.50" x2="369.20" y2="266.50" stroke="#000" stroke-width="1.0"/>
<circle cx="371" cy="266.14" r="2.0" fill="#fff" stroke="#000" stroke-width="1.3"/>
<text x="326.20" y="265.34" font-size="8.2" font-family="Liberation Sans" text-anchor="start" fill="#000" stroke="#000" stroke-width="0.2">TPI+</text>
<text x="363.30" y="264.94" font-size="6.4" font-family="Liberation Sans" text-anchor="end" fill="#000" stroke="#000" stroke-width="0.2">4</text>
<text x="378.40" y="268.34" font-size="7.4" font-family="Liberation Sans" text-anchor="start" fill="#000" stroke="#000" stroke-width="0.2">TPI+</text>
<line x1="326.20" y1="274.50" x2="369.20" y2="274.50" stroke="#000" stroke-width="1.0"/>
<circle cx="371" cy="274.22" r="2.0" fill="#fff" stroke="#000" stroke-width="1.3"/>
<text x="326.20" y="273.42" font-size="8.2" font-family="Liberation Sans" text-anchor="start" fill="#000" stroke="#000" stroke-width="0.2">LINK</text>
<text x="363.30" y="273.02" font-size="6.4" font-family="Liberation Sans" text-anchor="end" fill="#000" stroke="#000" stroke-width="0.2">5</text>
<text x="378.40" y="276.42" font-size="7.4" font-family="Liberation Sans" text-anchor="start" fill="#000" stroke="#000" stroke-width="0.2">LINK</text>
<line x1="326.20" y1="282.50" x2="369.20" y2="282.50" stroke="#000" stroke-width="1.0"/>
<circle cx="371" cy="282.30" r="2.0" fill="#fff" stroke="#000" stroke-width="1.3"/>
<text x="326.20" y="281.50" font-size="8.2" font-family="Liberation Sans" text-anchor="start" fill="#000" stroke="#000" stroke-width="0.2">GND</text>
<text x="363.30" y="281.10" font-size="6.4" font-family="Liberation Sans" text-anchor="end" fill="#000" stroke="#000" stroke-width="0.2">6</text>
<text x="378.40" y="284.50" font-size="7.4" font-family="Liberation Sans" text-anchor="start" fill="#000" stroke="#000" stroke-width="0.2">GNDE</text>
<line x1="326.20" y1="290.50" x2="369.20" y2="290.50" stroke="#000" stroke-width="1.0"/>
<circle cx="371" cy="290.38" r="2.0" fill="#fff" stroke="#000" stroke-width="1.3"/>
<text x="326.20" y="289.58" font-size="8.2" font-family="Liberation Sans" text-anchor="start" fill="#000" stroke="#000" stroke-width="0.2">RXD</text>
<text x="363.30" y="289.18" font-size="6.4" font-family="Liberation Sans" text-anchor="end" fill="#000" stroke="#000" stroke-width="0.2">7</text>
<text x="378.40" y="292.58" font-size="7.4" font-family="Liberation Sans" text-anchor="start" fill="#000" stroke="#000" stroke-width="0.2">RXD</text>
<line x1="326.20" y1="298.50" x2="369.20" y2="298.50" stroke="#000" stroke-width="1.0"/>
<circle cx="371" cy="298.46" r="2.0" fill="#fff" stroke="#000" stroke-width="1.3"/>
<text x="326.20" y="297.66" font-size="8.2" font-family="Liberation Sans" text-anchor="start" fill="#000" stroke="#000" stroke-width="0.2">TXD</text>
<text x="363.30" y="297.26" font-size="6.4" font-family="Liberation Sans" text-anchor="end" fill="#000" stroke="#000" stroke-width="0.2">8</text>
<text x="378.40" y="300.66" font-size="7.4" font-family="Liberation Sans" text-anchor="start" fill="#000" stroke="#000" stroke-width="0.2">TXD</text>
<line x1="326.20" y1="306.50" x2="369.20" y2="306.50" stroke="#000" stroke-width="1.0"/>
<circle cx="371" cy="306.54" r="2.0" fill="#fff" stroke="#000" stroke-width="1.3"/>
<text x="326.20" y="305.74" font-size="8.2" font-family="Liberation Sans" text-anchor="start" fill="#000" stroke="#000" stroke-width="0.2">CTS</text>
<text x="363.30" y="305.34" font-size="6.4" font-family="Liberation Sans" text-anchor="end" fill="#000" stroke="#000" stroke-width="0.2">9</text>
<text x="378.40" y="308.74" font-size="7.4" font-family="Liberation Sans" text-anchor="start" fill="#000" stroke="#000" stroke-width="0.2">CTS</text>
<line x1="326.20" y1="314.50" x2="369.20" y2="314.50" stroke="#000" stroke-width="1.0"/>
<circle cx="371" cy="314.62" r="2.0" fill="#fff" stroke="#000" stroke-width="1.3"/>
<text x="326.20" y="313.82" font-size="8.2" font-family="Liberation Sans" text-anchor="start" fill="#000" stroke="#000" stroke-width="0.2">RTS</text>
<text x="363.30" y="313.42" font-size="6.4" font-family="Liberation Sans" text-anchor="end" fill="#000" stroke="#000" stroke-width="0.2">10</text>
<text x="378.40" y="316.82" font-size="7.4" font-family="Liberation Sans" text-anchor="start" fill="#000" stroke="#000" stroke-width="0.2">RTS</text>
<line x1="326.20" y1="322.50" x2="369.20" y2="322.50" stroke="#000" stroke-width="1.0"/>
<circle cx="371" cy="322.70" r="2.0" fill="#fff" stroke="#000" stroke-width="1.3"/>
<text x="326.20" y="321.90" font-size="8.2" font-family="Liberation Sans" text-anchor="start" fill="#000" stroke="#000" stroke-width="0.2">PE4</text>
<text x="363.30" y="321.50" font-size="6.4" font-family="Liberation Sans" text-anchor="end" fill="#000" stroke="#000" stroke-width="0.2">11</text>
<text x="378.40" y="324.90" font-size="7.4" font-family="Liberation Sans" text-anchor="start" fill="#000" stroke="#000" stroke-width="0.2">PE4</text>
<line x1="326.20" y1="330.50" x2="369.20" y2="330.50" stroke="#000" stroke-width="1.0"/>
<circle cx="371" cy="330.78" r="2.0" fill="#fff" stroke="#000" stroke-width="1.3"/>
<text x="326.20" y="329.98" font-size="8.2" font-family="Liberation Sans" text-anchor="start" fill="#000" stroke="#000" stroke-width="0.2">+5V</text>
<text x="363.30" y="329.58" font-size="6.4" font-family="Liberation Sans" text-anchor="end" fill="#000" stroke="#000" stroke-width="0.2">12</text>
<text x="378.40" y="332.98" font-size="7.4" font-family="Liberation Sans" text-anchor="start" fill="#000" stroke="#000" stroke-width="0.2">+5V</text>
<line x1="348.00" y1="288.50" x2="356.00" y2="288.50" stroke="#000" stroke-width="0.9"/>
<polygon points="352.5,286.68 357,288.18 352.5,289.68" fill="#000"/>
<line x1="348.00" y1="296.50" x2="356.00" y2="296.50" stroke="#000" stroke-width="0.9"/>
<polygon points="351.5,294.76 347,296.26 351.5,297.76" fill="#000"/>
<line x1="348.00" y1="304.50" x2="356.00" y2="304.50" stroke="#000" stroke-width="0.9"/>
<polygon points="352.5,302.84 357,304.34 352.5,305.84" fill="#000"/>
<line x1="348.00" y1="312.50" x2="356.00" y2="312.50" stroke="#000" stroke-width="0.9"/>
<polygon points="351.5,310.92 347,312.42 351.5,313.92" fill="#000"/>
<rect x="458.50" y="237.50" width="69.00" height="97.00" fill="none" stroke="#000" stroke-width="1.0"/>
<text x="463.60" y="234.90" font-size="6" font-family="Liberation Sans" text-anchor="middle" fill="#000" stroke="#000" stroke-width="0.2">13</text>
<text x="522.00" y="234.90" font-size="6" font-family="Liberation Sans" text-anchor="middle" fill="#000" stroke="#000" stroke-width="0.2">25</text>
<text x="463.20" y="340.40" font-size="6" font-family="Liberation Sans" text-anchor="middle" fill="#000" stroke="#000" stroke-width="0.2">24</text>
<text x="522.00" y="340.40" font-size="6" font-family="Liberation Sans" text-anchor="middle" fill="#000" stroke="#000" stroke-width="0.2">36</text>
<line x1="419.90" y1="241.50" x2="462.00" y2="241.50" stroke="#000" stroke-width="1.0"/>
<line x1="522.50" y1="241.50" x2="565.70" y2="241.50" stroke="#000" stroke-width="1.0"/>
<circle cx="464" cy="241.90" r="2.0" fill="#fff" stroke="#000" stroke-width="1.3"/>
<circle cx="520.5" cy="241.90" r="2.0" fill="#fff" stroke="#000" stroke-width="1.3"/>
<text x="419.90" y="241.10" font-size="8.2" font-family="Liberation Sans" text-anchor="start" fill="#000" stroke="#000" stroke-width="0.2">PD0</text>
<text x="457.20" y="240.50" font-size="6.4" font-family="Liberation Sans" text-anchor="end" fill="#000" stroke="#000" stroke-width="0.2">13</text>
<text x="471.90" y="244.10" font-size="7.1" font-family="Liberation Sans" text-anchor="start" fill="#000" stroke="#000" stroke-width="0.2">PD0</text>
<text x="500.70" y="244.10" font-size="7.1" font-family="Liberation Sans" text-anchor="start" fill="#000" stroke="#000" stroke-width="0.2">PB3</text>
<text x="528.80" y="240.50" font-size="6.4" font-family="Liberation Sans" text-anchor="start" fill="#000" stroke="#000" stroke-width="0.2">25</text>
<text x="565.70" y="241.10" font-size="8.2" font-family="Liberation Sans" text-anchor="end" fill="#000" stroke="#000" stroke-width="0.2">PB3</text>
<line x1="419.90" y1="249.50" x2="462.00" y2="249.50" stroke="#000" stroke-width="1.0"/>
<line x1="522.50" y1="249.50" x2="565.70" y2="249.50" stroke="#000" stroke-width="1.0"/>
<circle cx="464" cy="249.98" r="2.0" fill="#fff" stroke="#000" stroke-width="1.3"/>
<circle cx="520.5" cy="249.98" r="2.0" fill="#fff" stroke="#000" stroke-width="1.3"/>
<text x="419.90" y="249.18" font-size="8.2" font-family="Liberation Sans" text-anchor="start" fill="#000" stroke="#000" stroke-width="0.2">PD1</text>
<text x="457.20" y="248.58" font-size="6.4" font-family="Liberation Sans" text-anchor="end" fill="#000" stroke="#000" stroke-width="0.2">14</text>
<text x="471.90" y="252.18" font-size="7.1" font-family="Liberation Sans" text-anchor="start" fill="#000" stroke="#000" stroke-width="0.2">PD1</text>
<text x="500.70" y="252.18" font-size="7.1" font-family="Liberation Sans" text-anchor="start" fill="#000" stroke="#000" stroke-width="0.2">PB2</text>
<text x="528.80" y="248.58" font-size="6.4" font-family="Liberation Sans" text-anchor="start" fill="#000" stroke="#000" stroke-width="0.2">26</text>
<text x="565.70" y="249.18" font-size="8.2" font-family="Liberation Sans" text-anchor="end" fill="#000" stroke="#000" stroke-width="0.2">PB2</text>
<line x1="419.90" y1="258.50" x2="462.00" y2="258.50" stroke="#000" stroke-width="1.0"/>
<line x1="522.50" y1="258.50" x2="565.70" y2="258.50" stroke="#000" stroke-width="1.0"/>
<circle cx="464" cy="258.06" r="2.0" fill="#fff" stroke="#000" stroke-width="1.3"/>
<circle cx="520.5" cy="258.06" r="2.0" fill="#fff" stroke="#000" stroke-width="1.3"/>
<text x="419.90" y="257.26" font-size="8.2" font-family="Liberation Sans" text-anchor="start" fill="#000" stroke="#000" stroke-width="0.2">PD2</text>
<text x="457.20" y="256.66" font-size="6.4" font-family="Liberation Sans" text-anchor="end" fill="#000" stroke="#000" stroke-width="0.2">15</text>
<text x="471.90" y="260.26" font-size="7.1" font-family="Liberation Sans" text-anchor="start" fill="#000" stroke="#000" stroke-width="0.2">PD2</text>
<text x="500.70" y="260.26" font-size="7.1" font-family="Liberation Sans" text-anchor="start" fill="#000" stroke="#000" stroke-width="0.2">PB1</text>
<text x="528.80" y="256.66" font-size="6.4" font-family="Liberation Sans" text-anchor="start" fill="#000" stroke="#000" stroke-width="0.2">27</text>
<text x="565.70" y="257.26" font-size="8.2" font-family="Liberation Sans" text-anchor="end" fill="#000" stroke="#000" stroke-width="0.2">PB1</text>
<line x1="419.90" y1="266.50" x2="462.00" y2="266.50" stroke="#000" stroke-width="1.0"/>
<line x1="522.50" y1="266.50" x2="565.70" y2="266.50" stroke="#000" stroke-width="1.0"/>
<circle cx="464" cy="266.14" r="2.0" fill="#fff" stroke="#000" stroke-width="1.3"/>
<circle cx="520.5" cy="266.14" r="2.0" fill="#fff" stroke="#000" stroke-width="1.3"/>
<text x="419.90" y="265.34" font-size="8.2" font-family="Liberation Sans" text-anchor="start" fill="#000" stroke="#000" stroke-width="0.2">PD3</text>
<text x="457.20" y="264.74" font-size="6.4" font-family="Liberation Sans" text-anchor="end" fill="#000" stroke="#000" stroke-width="0.2">16</text>
<text x="471.90" y="268.34" font-size="7.1" font-family="Liberation Sans" text-anchor="start" fill="#000" stroke="#000" stroke-width="0.2">PD3</text>
<text x="500.70" y="268.34" font-size="7.1" font-family="Liberation Sans" text-anchor="start" fill="#000" stroke="#000" stroke-width="0.2">PB0</text>
<text x="528.80" y="264.74" font-size="6.4" font-family="Liberation Sans" text-anchor="start" fill="#000" stroke="#000" stroke-width="0.2">28</text>
<text x="565.70" y="265.34" font-size="8.2" font-family="Liberation Sans" text-anchor="end" fill="#000" stroke="#000" stroke-width="0.2">PB0</text>
<line x1="419.90" y1="274.50" x2="462.00" y2="274.50" stroke="#000" stroke-width="1.0"/>
<line x1="522.50" y1="274.50" x2="565.70" y2="274.50" stroke="#000" stroke-width="1.0"/>
<circle cx="464" cy="274.22" r="2.0" fill="#fff" stroke="#000" stroke-width="1.3"/>
<circle cx="520.5" cy="274.22" r="2.0" fill="#fff" stroke="#000" stroke-width="1.3"/>
<text x="419.90" y="273.42" font-size="8.2" font-family="Liberation Sans" text-anchor="start" fill="#000" stroke="#000" stroke-width="0.2">PD4</text>
<text x="457.20" y="272.82" font-size="6.4" font-family="Liberation Sans" text-anchor="end" fill="#000" stroke="#000" stroke-width="0.2">17</text>
<text x="471.90" y="276.42" font-size="7.1" font-family="Liberation Sans" text-anchor="start" fill="#000" stroke="#000" stroke-width="0.2">PD4</text>
<text x="500.70" y="276.42" font-size="7.1" font-family="Liberation Sans" text-anchor="start" fill="#000" stroke="#000" stroke-width="0.2">PF7</text>
<text x="528.80" y="272.82" font-size="6.4" font-family="Liberation Sans" text-anchor="start" fill="#000" stroke="#000" stroke-width="0.2">29</text>
<text x="565.70" y="273.42" font-size="8.2" font-family="Liberation Sans" text-anchor="end" fill="#000" stroke="#000" stroke-width="0.2">PF7</text>
<line x1="419.90" y1="282.50" x2="462.00" y2="282.50" stroke="#000" stroke-width="1.0"/>
<line x1="522.50" y1="282.50" x2="565.70" y2="282.50" stroke="#000" stroke-width="1.0"/>
<circle cx="464" cy="282.30" r="2.0" fill="#fff" stroke="#000" stroke-width="1.3"/>
<circle cx="520.5" cy="282.30" r="2.0" fill="#fff" stroke="#000" stroke-width="1.3"/>
<text x="419.90" y="281.50" font-size="8.2" font-family="Liberation Sans" text-anchor="start" fill="#000" stroke="#000" stroke-width="0.2">PD5</text>
<text x="457.20" y="280.90" font-size="6.4" font-family="Liberation Sans" text-anchor="end" fill="#000" stroke="#000" stroke-width="0.2">18</text>
<text x="471.90" y="284.50" font-size="7.1" font-family="Liberation Sans" text-anchor="start" fill="#000" stroke="#000" stroke-width="0.2">PD5</text>
<text x="500.70" y="284.50" font-size="7.1" font-family="Liberation Sans" text-anchor="start" fill="#000" stroke="#000" stroke-width="0.2">PF6</text>
<text x="528.80" y="280.90" font-size="6.4" font-family="Liberation Sans" text-anchor="start" fill="#000" stroke="#000" stroke-width="0.2">30</text>
<text x="565.70" y="281.50" font-size="8.2" font-family="Liberation Sans" text-anchor="end" fill="#000" stroke="#000" stroke-width="0.2">PF6</text>
<line x1="419.90" y1="290.50" x2="462.00" y2="290.50" stroke="#000" stroke-width="1.0"/>
<line x1="522.50" y1="290.50" x2="565.70" y2="290.50" stroke="#000" stroke-width="1.0"/>
<circle cx="464" cy="290.38" r="2.0" fill="#fff" stroke="#000" stroke-width="1.3"/>
<circle cx="520.5" cy="290.38" r="2.0" fill="#fff" stroke="#000" stroke-width="1.3"/>
<text x="419.90" y="289.58" font-size="8.2" font-family="Liberation Sans" text-anchor="start" fill="#000" stroke="#000" stroke-width="0.2">PD6</text>
<text x="457.20" y="288.98" font-size="6.4" font-family="Liberation Sans" text-anchor="end" fill="#000" stroke="#000" stroke-width="0.2">19</text>
<text x="471.90" y="292.58" font-size="7.1" font-family="Liberation Sans" text-anchor="start" fill="#000" stroke="#000" stroke-width="0.2">PD6</text>
<text x="500.70" y="292.58" font-size="7.1" font-family="Liberation Sans" text-anchor="start" fill="#000" stroke="#000" stroke-width="0.2">PF5</text>
<text x="528.80" y="288.98" font-size="6.4" font-family="Liberation Sans" text-anchor="start" fill="#000" stroke="#000" stroke-width="0.2">31</text>
<text x="565.70" y="289.58" font-size="8.2" font-family="Liberation Sans" text-anchor="end" fill="#000" stroke="#000" stroke-width="0.2">PF5</text>
<line x1="419.90" y1="298.50" x2="462.00" y2="298.50" stroke="#000" stroke-width="1.0"/>
<line x1="522.50" y1="298.50" x2="565.70" y2="298.50" stroke="#000" stroke-width="1.0"/>
<circle cx="464" cy="298.46" r="2.0" fill="#fff" stroke="#000" stroke-width="1.3"/>
<circle cx="520.5" cy="298.46" r="2.0" fill="#fff" stroke="#000" stroke-width="1.3"/>
<text x="419.90" y="297.66" font-size="8.2" font-family="Liberation Sans" text-anchor="start" fill="#000" stroke="#000" stroke-width="0.2">PD7</text>
<text x="457.20" y="297.06" font-size="6.4" font-family="Liberation Sans" text-anchor="end" fill="#000" stroke="#000" stroke-width="0.2">20</text>
<text x="471.90" y="300.66" font-size="7.1" font-family="Liberation Sans" text-anchor="start" fill="#000" stroke="#000" stroke-width="0.2">PD7</text>
<text x="500.70" y="300.66" font-size="7.1" font-family="Liberation Sans" text-anchor="start" fill="#000" stroke="#000" stroke-width="0.2">PF4</text>
<text x="528.80" y="297.06" font-size="6.4" font-family="Liberation Sans" text-anchor="start" fill="#000" stroke="#000" stroke-width="0.2">32</text>
<text x="565.70" y="297.66" font-size="8.2" font-family="Liberation Sans" text-anchor="end" fill="#000" stroke="#000" stroke-width="0.2">PF4</text>
<line x1="419.90" y1="306.50" x2="462.00" y2="306.50" stroke="#000" stroke-width="1.0"/>
<line x1="522.50" y1="306.50" x2="565.70" y2="306.50" stroke="#000" stroke-width="1.0"/>
<circle cx="464" cy="306.54" r="2.0" fill="#fff" stroke="#000" stroke-width="1.3"/>
<circle cx="520.5" cy="306.54" r="2.0" fill="#fff" stroke="#000" stroke-width="1.3"/>
<text x="419.90" y="305.74" font-size="8.2" font-family="Liberation Sans" text-anchor="start" fill="#000" stroke="#000" stroke-width="0.2">PB6</text>
<text x="457.20" y="305.14" font-size="6.4" font-family="Liberation Sans" text-anchor="end" fill="#000" stroke="#000" stroke-width="0.2">21</text>
<text x="471.90" y="308.74" font-size="7.1" font-family="Liberation Sans" text-anchor="start" fill="#000" stroke="#000" stroke-width="0.2">PB6</text>
<text x="500.70" y="308.74" font-size="7.1" font-family="Liberation Sans" text-anchor="start" fill="#000" stroke="#000" stroke-width="0.2">PF3</text>
<text x="528.80" y="305.14" font-size="6.4" font-family="Liberation Sans" text-anchor="start" fill="#000" stroke="#000" stroke-width="0.2">33</text>
<text x="565.70" y="305.74" font-size="8.2" font-family="Liberation Sans" text-anchor="end" fill="#000" stroke="#000" stroke-width="0.2">PF3</text>
<line x1="419.90" y1="314.50" x2="462.00" y2="314.50" stroke="#000" stroke-width="1.0"/>
<line x1="522.50" y1="314.50" x2="565.70" y2="314.50" stroke="#000" stroke-width="1.0"/>
<circle cx="464" cy="314.62" r="2.0" fill="#fff" stroke="#000" stroke-width="1.3"/>
<circle cx="520.5" cy="314.62" r="2.0" fill="#fff" stroke="#000" stroke-width="1.3"/>
<text x="419.90" y="313.82" font-size="8.2" font-family="Liberation Sans" text-anchor="start" fill="#000" stroke="#000" stroke-width="0.2">PB7</text>
<text x="457.20" y="313.22" font-size="6.4" font-family="Liberation Sans" text-anchor="end" fill="#000" stroke="#000" stroke-width="0.2">22</text>
<text x="471.90" y="316.82" font-size="7.1" font-family="Liberation Sans" text-anchor="start" fill="#000" stroke="#000" stroke-width="0.2">PB7</text>
<text x="500.70" y="316.82" font-size="7.1" font-family="Liberation Sans" text-anchor="start" fill="#000" stroke="#000" stroke-width="0.2">PF2</text>
<text x="528.80" y="313.22" font-size="6.4" font-family="Liberation Sans" text-anchor="start" fill="#000" stroke="#000" stroke-width="0.2">34</text>
<text x="565.70" y="313.82" font-size="8.2" font-family="Liberation Sans" text-anchor="end" fill="#000" stroke="#000" stroke-width="0.2">PF2</text>
<line x1="419.90" y1="322.50" x2="462.00" y2="322.50" stroke="#000" stroke-width="1.0"/>
<line x1="522.50" y1="322.50" x2="565.70" y2="322.50" stroke="#000" stroke-width="1.0"/>
<circle cx="464" cy="322.70" r="2.0" fill="#fff" stroke="#000" stroke-width="1.3"/>
<circle cx="520.5" cy="322.70" r="2.0" fill="#fff" stroke="#000" stroke-width="1.3"/>
<text x="419.90" y="321.90" font-size="8.2" font-family="Liberation Sans" text-anchor="start" fill="#000" stroke="#000" stroke-width="0.2">RST</text>
<text x="457.20" y="321.30" font-size="6.4" font-family="Liberation Sans" text-anchor="end" fill="#000" stroke="#000" stroke-width="0.2">23</text>
<text x="471.90" y="324.90" font-size="7.1" font-family="Liberation Sans" text-anchor="start" fill="#000" stroke="#000" stroke-width="0.2">-RST</text>
<text x="500.70" y="324.90" font-size="7.1" font-family="Liberation Sans" text-anchor="start" fill="#000" stroke="#000" stroke-width="0.2">PF1</text>
<text x="528.80" y="321.30" font-size="6.4" font-family="Liberation Sans" text-anchor="start" fill="#000" stroke="#000" stroke-width="0.2">35</text>
<text x="565.70" y="321.90" font-size="8.2" font-family="Liberation Sans" text-anchor="end" fill="#000" stroke="#000" stroke-width="0.2">PF1</text>
<line x1="419.90" y1="330.50" x2="462.00" y2="330.50" stroke="#000" stroke-width="1.0"/>
<line x1="522.50" y1="330.50" x2="565.70" y2="330.50" stroke="#000" stroke-width="1.0"/>
<circle cx="464" cy="330.78" r="2.0" fill="#fff" stroke="#000" stroke-width="1.3"/>
<circle cx="520.5" cy="330.78" r="2.0" fill="#fff" stroke="#000" stroke-width="1.3"/>
<text x="419.90" y="329.98" font-size="8.2" font-family="Liberation Sans" text-anchor="start" fill="#000" stroke="#000" stroke-width="0.2">GND</text>
<text x="457.20" y="329.38" font-size="6.4" font-family="Liberation Sans" text-anchor="end" fill="#000" stroke="#000" stroke-width="0.2">24</text>
<text x="471.90" y="332.98" font-size="7.1" font-family="Liberation Sans" text-anchor="start" fill="#000" stroke="#000" stroke-width="0.2">GND2</text>
<text x="500.70" y="332.98" font-size="7.1" font-family="Liberation Sans" text-anchor="start" fill="#000" stroke="#000" stroke-width="0.2">PF0</text>
<text x="528.80" y="329.38" font-size="6.4" font-family="Liberation Sans" text-anchor="start" fill="#000" stroke="#000" stroke-width="0.2">36</text>
<text x="565.70" y="329.98" font-size="8.2" font-family="Liberation Sans" text-anchor="end" fill="#000" stroke="#000" stroke-width="0.2">PF0</text>
<polyline points="130.60,227.40 135.20,222.40 139.80,227.40" fill="none" stroke="#000" stroke-width="1.35"/>
<text x="131.20" y="218.40" font-size="7.8" font-family="Liberation Sans" text-anchor="start" fill="#000" textLength="14.6" lengthAdjust="spacingAndGlyphs" stroke="#000" stroke-width="0.2">+5V</text>
<polyline points="135.50,222.40 135.50,253.50 145.30,253.50" fill="none" stroke="#000" stroke-width="1.0"/>
<line x1="148.60" y1="253.50" x2="179.40" y2="253.50" stroke="#000" stroke-width="1.0"/>
<rect x="144.30" y="247.50" width="2.30" height="12.90" fill="#000"/>
<rect x="147.50" y="247.50" width="2.30" height="12.90" fill="#000"/>
<polyline points="145.30,270.50 135.50,270.50 135.50,286.60" fill="none" stroke="#000" stroke-width="1.0"/>
<line x1="128.50" y1="286.50" x2="141.90" y2="286.50" stroke="#000" stroke-width="1.3"/>
<line x1="148.60" y1="270.50" x2="179.40" y2="270.50" stroke="#000" stroke-width="1.0"/>
<rect x="144.30" y="264.20" width="2.30" height="12.80" fill="#000"/>
<rect x="147.50" y="264.20" width="2.30" height="12.80" fill="#000"/>
<text x="161.20" y="236.20" font-size="7.8" font-family="Liberation Sans" text-anchor="start" fill="#000" stroke="#000" stroke-width="0.2">C8</text>
<text x="148.60" y="244.10" font-size="7.6" font-family="Liberation Sans" text-anchor="start" fill="#000" stroke="#000" stroke-width="0.2">100nF</text>
<text x="161.20" y="281.40" font-size="7.8" font-family="Liberation Sans" text-anchor="start" fill="#000" stroke="#000" stroke-width="0.2">C9</text>
<text x="148.60" y="288.40" font-size="7.6" font-family="Liberation Sans" text-anchor="start" fill="#000" stroke="#000" stroke-width="0.2">100nF</text>
<text x="170.30" y="252.40" font-size="6.4" font-family="Liberation Sans" text-anchor="middle" fill="#000" stroke="#000" stroke-width="0.2">2</text>
<text x="170.30" y="268.80" font-size="6.4" font-family="Liberation Sans" text-anchor="middle" fill="#000" stroke="#000" stroke-width="0.2">6</text>
<rect x="179.40" y="237.90" width="65.20" height="104.90" fill="none" stroke="#000" stroke-width="1.8"/>
<text x="244.30" y="235.40" font-size="8.7" font-family="Liberation Sans" text-anchor="end" fill="#000" stroke="#000" stroke-width="0.2">IC1</text>
<text x="186.60" y="255.30" font-size="7.0" font-family="Liberation Sans" text-anchor="start" fill="#000" stroke="#000" stroke-width="0.2">V+</text>
<text x="186.60" y="272.00" font-size="7.0" font-family="Liberation Sans" text-anchor="start" fill="#000" stroke="#000" stroke-width="0.2">V-</text>
<text x="237.40" y="247.50" font-size="7.0" font-family="Liberation Sans" text-anchor="end" fill="#000" stroke="#000" stroke-width="0.2">C1+</text>
<text x="237.40" y="263.60" font-size="7.0" font-family="Liberation Sans" text-anchor="end" fill="#000" stroke="#000" stroke-width="0.2">C1-</text>
<text x="237.40" y="279.90" font-size="7.0" font-family="Liberation Sans" text-anchor="end" fill="#000" stroke="#000" stroke-width="0.2">C2+</text>
<text x="237.40" y="296.20" font-size="7.0" font-family="Liberation Sans" text-anchor="end" fill="#000" stroke="#000" stroke-width="0.2">C2-</text>
<line x1="244.60" y1="245.50" x2="275.30" y2="245.50" stroke="#000" stroke-width="1.0"/>
<polyline points="279.10,245.50 293.50,245.50 293.50,262.50 244.60,262.50" fill="none" stroke="#000" stroke-width="1.0"/>
<line x1="244.60" y1="278.50" x2="275.30" y2="278.50" stroke="#000" stroke-width="1.0"/>
<polyline points="279.10,278.50 293.50,278.50 293.50,294.50 244.60,294.50" fill="none" stroke="#000" stroke-width="1.0"/>
<rect x="274.00" y="239.60" width="2.60" height="12.80" fill="#000"/>
<rect x="277.50" y="239.60" width="2.60" height="12.80" fill="#000"/>
<rect x="274.00" y="271.60" width="2.60" height="13.40" fill="#000"/>
<rect x="277.50" y="271.60" width="2.60" height="13.40" fill="#000"/>
<text x="255.20" y="239.60" font-size="7.6" font-family="Liberation Sans" text-anchor="start" fill="#000" stroke="#000" stroke-width="0.2">100nF</text>
<text x="281.40" y="239.60" font-size="7.6" font-family="Liberation Sans" text-anchor="start" fill="#000" stroke="#000" stroke-width="0.2">C7</text>
<text x="255.20" y="272.00" font-size="7.6" font-family="Liberation Sans" text-anchor="start" fill="#000" stroke="#000" stroke-width="0.2">100nF</text>
<text x="281.40" y="272.00" font-size="7.6" font-family="Liberation Sans" text-anchor="start" fill="#000" stroke="#000" stroke-width="0.2">C10</text>
<text x="253.70" y="244.20" font-size="6.4" font-family="Liberation Sans" text-anchor="middle" fill="#000" stroke="#000" stroke-width="0.2">1</text>
<text x="253.70" y="260.50" font-size="6.4" font-family="Liberation Sans" text-anchor="middle" fill="#000" stroke="#000" stroke-width="0.2">3</text>
<text x="253.70" y="276.80" font-size="6.4" font-family="Liberation Sans" text-anchor="middle" fill="#000" stroke="#000" stroke-width="0.2">4</text>
<text x="253.70" y="292.80" font-size="6.4" font-family="Liberation Sans" text-anchor="middle" fill="#000" stroke="#000" stroke-width="0.2">5</text>
<text x="187.40" y="313.00" font-size="7.0" font-family="Liberation Sans" text-anchor="start" fill="#000" stroke="#000" stroke-width="0.2">T1OUT</text>
<text x="187.40" y="320.90" font-size="7.0" font-family="Liberation Sans" text-anchor="start" fill="#000" stroke="#000" stroke-width="0.2">T2OUT</text>
<text x="187.40" y="329.10" font-size="7.0" font-family="Liberation Sans" text-anchor="start" fill="#000" stroke="#000" stroke-width="0.2">R1IN</text>
<text x="187.40" y="336.90" font-size="7.0" font-family="Liberation Sans" text-anchor="start" fill="#000" stroke="#000" stroke-width="0.2">R2IN</text>
<text x="237.30" y="313.00" font-size="7.0" font-family="Liberation Sans" text-anchor="end" fill="#000" stroke="#000" stroke-width="0.2">T1IN</text>
<text x="237.30" y="320.90" font-size="7.0" font-family="Liberation Sans" text-anchor="end" fill="#000" stroke="#000" stroke-width="0.2">T2IN</text>
<text x="237.30" y="329.10" font-size="7.0" font-family="Liberation Sans" text-anchor="end" fill="#000" stroke="#000" stroke-width="0.2">R1OUT</text>
<text x="237.30" y="336.90" font-size="7.0" font-family="Liberation Sans" text-anchor="end" fill="#000" stroke="#000" stroke-width="0.2">R2OUT</text>
<text x="193.10" y="351.10" font-size="7.8" font-family="Liberation Sans" text-anchor="start" fill="#000" textLength="51.5" lengthAdjust="spacingAndGlyphs" stroke="#000" stroke-width="0.2">MAX3232CPE</text>
<line x1="244.60" y1="310.50" x2="281.20" y2="310.50" stroke="#000" stroke-width="1.0"/>
<text x="265.20" y="310.60" font-size="8.2" font-family="Liberation Sans" text-anchor="start" fill="#000" textLength="15.8" lengthAdjust="spacingAndGlyphs" stroke="#000" stroke-width="0.2">RTS</text>
<line x1="244.60" y1="327.50" x2="281.20" y2="327.50" stroke="#000" stroke-width="1.0"/>
<text x="265.20" y="327.10" font-size="8.2" font-family="Liberation Sans" text-anchor="start" fill="#000" textLength="15.8" lengthAdjust="spacingAndGlyphs" stroke="#000" stroke-width="0.2">CTS</text>
<polyline points="244.60,318.50 297.50,318.50 297.50,424.50 334.10,424.50" fill="none" stroke="#000" stroke-width="1.0"/>
<polyline points="244.60,334.50 289.50,334.50 289.50,448.50 334.10,448.50" fill="none" stroke="#000" stroke-width="1.0"/>
<text x="253.00" y="309.30" font-size="7.0" font-family="Liberation Sans" text-anchor="start" fill="#000" stroke="#000" stroke-width="0.2">11</text>
<text x="253.00" y="317.50" font-size="7.0" font-family="Liberation Sans" text-anchor="start" fill="#000" stroke="#000" stroke-width="0.2">10</text>
<text x="253.00" y="325.80" font-size="7.0" font-family="Liberation Sans" text-anchor="start" fill="#000" stroke="#000" stroke-width="0.2">12</text>
<text x="253.00" y="334.00" font-size="7.0" font-family="Liberation Sans" text-anchor="start" fill="#000" stroke="#000" stroke-width="0.2">9</text>
<text x="173.00" y="308.90" font-size="6.4" font-family="Liberation Sans" text-anchor="end" fill="#000" stroke="#000" stroke-width="0.2">14</text>
<text x="173.00" y="317.00" font-size="6.4" font-family="Liberation Sans" text-anchor="end" fill="#000" stroke="#000" stroke-width="0.2">7</text>
<text x="173.00" y="325.10" font-size="6.4" font-family="Liberation Sans" text-anchor="end" fill="#000" stroke="#000" stroke-width="0.2">13</text>
<text x="173.00" y="333.40" font-size="6.4" font-family="Liberation Sans" text-anchor="end" fill="#000" stroke="#000" stroke-width="0.2">8</text>
<text x="76.50" y="290.50" font-size="7.6" font-family="Liberation Sans" text-anchor="start" fill="#000" stroke="#000" stroke-width="0.2">X1</text>
<path d="M61.1,301 Q61.1,296.5 65.5,295.6 L82.5,292.2 Q87,291.6 87,296.2 L87,341.6 Q87,346 82.5,345.3 L65.5,341.8 Q61.1,340.8 61.1,336.6 Z" fill="none" stroke="#000" stroke-width="1.8"/>
<path d="M79.6,299.80 A2.6,2.6 0 0 1 79.6,305.00" fill="none" stroke="#000" stroke-width="1"/>
<line x1="82.20" y1="302.50" x2="98.70" y2="302.50" stroke="#000" stroke-width="1.0"/>
<text x="91.40" y="300.90" font-size="6.4" font-family="Liberation Sans" text-anchor="middle" fill="#000" stroke="#000" stroke-width="0.2">1</text>
<path d="M79.6,308.00 A2.6,2.6 0 0 1 79.6,313.20" fill="none" stroke="#000" stroke-width="1"/>
<line x1="82.20" y1="310.50" x2="98.70" y2="310.50" stroke="#000" stroke-width="1.0"/>
<text x="91.40" y="309.10" font-size="6.4" font-family="Liberation Sans" text-anchor="middle" fill="#000" stroke="#000" stroke-width="0.2">2</text>
<path d="M79.6,316.20 A2.6,2.6 0 0 1 79.6,321.40" fill="none" stroke="#000" stroke-width="1"/>
<line x1="82.20" y1="318.50" x2="98.70" y2="318.50" stroke="#000" stroke-width="1.0"/>
<text x="91.40" y="317.30" font-size="6.4" font-family="Liberation Sans" text-anchor="middle" fill="#000" stroke="#000" stroke-width="0.2">3</text>
<path d="M79.6,324.40 A2.6,2.6 0 0 1 79.6,329.60" fill="none" stroke="#000" stroke-width="1"/>
<line x1="82.20" y1="327.50" x2="98.70" y2="327.50" stroke="#000" stroke-width="1.0"/>
<text x="91.40" y="325.50" font-size="6.4" font-family="Liberation Sans" text-anchor="middle" fill="#000" stroke="#000" stroke-width="0.2">4</text>
<path d="M79.6,332.60 A2.6,2.6 0 0 1 79.6,337.80" fill="none" stroke="#000" stroke-width="1"/>
<line x1="82.20" y1="335.50" x2="98.70" y2="335.50" stroke="#000" stroke-width="1.0"/>
<text x="91.40" y="333.70" font-size="6.4" font-family="Liberation Sans" text-anchor="middle" fill="#000" stroke="#000" stroke-width="0.2">5</text>
<path d="M69.0,308.00 A2.6,2.6 0 0 0 69.0,313.20" fill="none" stroke="#000" stroke-width="1"/>
<line x1="49.50" y1="310.50" x2="66.40" y2="310.50" stroke="#000" stroke-width="1.0"/>
<text x="56.60" y="309.10" font-size="6.4" font-family="Liberation Sans" text-anchor="middle" fill="#000" stroke="#000" stroke-width="0.2">6</text>
<path d="M69.0,316.20 A2.6,2.6 0 0 0 69.0,321.40" fill="none" stroke="#000" stroke-width="1"/>
<line x1="49.50" y1="318.50" x2="66.40" y2="318.50" stroke="#000" stroke-width="1.0"/>
<text x="56.60" y="317.30" font-size="6.4" font-family="Liberation Sans" text-anchor="middle" fill="#000" stroke="#000" stroke-width="0.2">7</text>
<path d="M69.0,324.40 A2.6,2.6 0 0 0 69.0,329.60" fill="none" stroke="#000" stroke-width="1"/>
<line x1="49.50" y1="327.50" x2="66.40" y2="327.50" stroke="#000" stroke-width="1.0"/>
<text x="56.60" y="325.50" font-size="6.4" font-family="Liberation Sans" text-anchor="middle" fill="#000" stroke="#000" stroke-width="0.2">8</text>
<path d="M69.0,332.60 A2.6,2.6 0 0 0 69.0,337.80" fill="none" stroke="#000" stroke-width="1"/>
<line x1="49.50" y1="335.50" x2="66.40" y2="335.50" stroke="#000" stroke-width="1.0"/>
<text x="56.60" y="333.70" font-size="6.4" font-family="Liberation Sans" text-anchor="middle" fill="#000" stroke="#000" stroke-width="0.2">9</text>
<polyline points="118.50,310.60 118.50,278.50 33.50,278.50 33.50,318.50 49.50,318.50" fill="none" stroke="#000" stroke-width="1.0"/>
<line x1="98.70" y1="318.50" x2="179.40" y2="318.50" stroke="#000" stroke-width="1.0"/>
<polyline points="98.70,310.50 114.50,310.50 114.50,335.50 179.40,335.50" fill="none" stroke="#000" stroke-width="1.0"/>
<polyline points="118.50,310.50 179.40,310.50" fill="none" stroke="#000" stroke-width="1.0"/>
<polyline points="49.50,327.50 33.50,327.50 33.50,355.50 147.50,355.50 147.50,327.50 179.40,327.50" fill="none" stroke="#000" stroke-width="1.0"/>
<polyline points="98.50,335.20 98.50,347.20" fill="none" stroke="#000" stroke-width="1.0"/>
<line x1="92.00" y1="347.50" x2="104.80" y2="347.50" stroke="#000" stroke-width="1.3"/>
<rect x="334.10" y="384.00" width="48.70" height="113.70" fill="none" stroke="#000" stroke-width="1.8"/>
<text x="334.40" y="381.50" font-size="8.7" font-family="Liberation Sans" text-anchor="start" fill="#000" stroke="#000" stroke-width="0.2">IC2</text>
<text x="334.10" y="505.30" font-size="8.0" font-family="Liberation Sans" text-anchor="start" fill="#000" textLength="24" lengthAdjust="spacingAndGlyphs" stroke="#000" stroke-width="0.2">4053D</text>
<text x="341.30" y="394.70" font-size="7.0" font-family="Liberation Sans" text-anchor="start" fill="#000" stroke="#000" stroke-width="0.2">X0</text>
<text x="327.00" y="390.50" font-size="6.4" font-family="Liberation Sans" text-anchor="end" fill="#000" stroke="#000" stroke-width="0.2">12</text>
<text x="341.30" y="403.20" font-size="7.0" font-family="Liberation Sans" text-anchor="start" fill="#000" stroke="#000" stroke-width="0.2">X1</text>
<text x="327.00" y="399.00" font-size="6.4" font-family="Liberation Sans" text-anchor="end" fill="#000" stroke="#000" stroke-width="0.2">13</text>
<text x="341.30" y="419.00" font-size="7.0" font-family="Liberation Sans" text-anchor="start" fill="#000" stroke="#000" stroke-width="0.2">Y0</text>
<text x="327.00" y="414.80" font-size="6.4" font-family="Liberation Sans" text-anchor="end" fill="#000" stroke="#000" stroke-width="0.2">2</text>
<text x="341.30" y="427.50" font-size="7.0" font-family="Liberation Sans" text-anchor="start" fill="#000" stroke="#000" stroke-width="0.2">Y1</text>
<text x="327.00" y="423.30" font-size="6.4" font-family="Liberation Sans" text-anchor="end" fill="#000" stroke="#000" stroke-width="0.2">1</text>
<text x="341.30" y="443.40" font-size="7.0" font-family="Liberation Sans" text-anchor="start" fill="#000" stroke="#000" stroke-width="0.2">Z0</text>
<text x="327.00" y="439.20" font-size="6.4" font-family="Liberation Sans" text-anchor="end" fill="#000" stroke="#000" stroke-width="0.2">5</text>
<text x="341.30" y="451.60" font-size="7.0" font-family="Liberation Sans" text-anchor="start" fill="#000" stroke="#000" stroke-width="0.2">Z1</text>
<text x="327.00" y="447.40" font-size="6.4" font-family="Liberation Sans" text-anchor="end" fill="#000" stroke="#000" stroke-width="0.2">3</text>
<text x="341.30" y="467.80" font-size="7.0" font-family="Liberation Sans" text-anchor="start" fill="#000" stroke="#000" stroke-width="0.2">INH</text>
<text x="327.00" y="463.60" font-size="6.4" font-family="Liberation Sans" text-anchor="end" fill="#000" stroke="#000" stroke-width="0.2">6</text>
<text x="341.30" y="476.20" font-size="7.0" font-family="Liberation Sans" text-anchor="start" fill="#000" stroke="#000" stroke-width="0.2">A</text>
<text x="327.00" y="472.00" font-size="6.4" font-family="Liberation Sans" text-anchor="end" fill="#000" stroke="#000" stroke-width="0.2">11</text>
<text x="341.30" y="484.30" font-size="7.0" font-family="Liberation Sans" text-anchor="start" fill="#000" stroke="#000" stroke-width="0.2">B</text>
<text x="327.00" y="480.10" font-size="6.4" font-family="Liberation Sans" text-anchor="end" fill="#000" stroke="#000" stroke-width="0.2">10</text>
<text x="341.30" y="492.20" font-size="7.0" font-family="Liberation Sans" text-anchor="start" fill="#000" stroke="#000" stroke-width="0.2">C</text>
<text x="327.00" y="488.00" font-size="6.4" font-family="Liberation Sans" text-anchor="end" fill="#000" stroke="#000" stroke-width="0.2">9</text>
<text x="371.20" y="394.70" font-size="7.0" font-family="Liberation Sans" text-anchor="start" fill="#000" stroke="#000" stroke-width="0.2">X</text>
<text x="391.30" y="390.30" font-size="6.4" font-family="Liberation Sans" text-anchor="start" fill="#000" stroke="#000" stroke-width="0.2">14</text>
<line x1="382.80" y1="391.50" x2="428.40" y2="391.50" stroke="#000" stroke-width="1.0"/>
<text x="428.20" y="391.70" font-size="8.0" font-family="Liberation Sans" text-anchor="end" fill="#000" textLength="16.2" lengthAdjust="spacingAndGlyphs" stroke="#000" stroke-width="0.2">PB1</text>
<text x="371.20" y="419.00" font-size="7.0" font-family="Liberation Sans" text-anchor="start" fill="#000" stroke="#000" stroke-width="0.2">Y</text>
<text x="391.30" y="414.60" font-size="6.4" font-family="Liberation Sans" text-anchor="start" fill="#000" stroke="#000" stroke-width="0.2">15</text>
<line x1="382.80" y1="416.50" x2="428.40" y2="416.50" stroke="#000" stroke-width="1.0"/>
<text x="428.20" y="416.00" font-size="8.0" font-family="Liberation Sans" text-anchor="end" fill="#000" textLength="15.8" lengthAdjust="spacingAndGlyphs" stroke="#000" stroke-width="0.2">TXD</text>
<text x="371.20" y="443.40" font-size="7.0" font-family="Liberation Sans" text-anchor="start" fill="#000" stroke="#000" stroke-width="0.2">Z</text>
<text x="391.30" y="439.00" font-size="6.4" font-family="Liberation Sans" text-anchor="start" fill="#000" stroke="#000" stroke-width="0.2">4</text>
<line x1="382.80" y1="440.50" x2="428.40" y2="440.50" stroke="#000" stroke-width="1.0"/>
<text x="428.20" y="440.40" font-size="8.0" font-family="Liberation Sans" text-anchor="end" fill="#000" textLength="15.8" lengthAdjust="spacingAndGlyphs" stroke="#000" stroke-width="0.2">RXD</text>
<polyline points="407.50,391.90 407.50,371.50 305.50,371.50 305.50,400.50 334.10,400.50" fill="none" stroke="#000" stroke-width="1.0"/>
<circle cx="407.50" cy="391.50" r="1.7" fill="#000"/>
<polyline points="248.50,424.50 248.50,391.50 334.10,391.50" fill="none" stroke="#000" stroke-width="1.0"/>
<polyline points="188.20,416.50 334.10,416.50" fill="none" stroke="#000" stroke-width="1.0"/>
<polyline points="134.50,400.10 134.50,448.50 273.50,448.50 273.50,440.50 334.10,440.50" fill="none" stroke="#000" stroke-width="1.0"/>
<polyline points="293.50,477.60 293.50,465.50 334.10,465.50" fill="none" stroke="#000" stroke-width="1.0"/>
<line x1="287.20" y1="477.50" x2="299.50" y2="477.50" stroke="#000" stroke-width="1.3"/>
<polyline points="334.10,473.50 305.50,473.50 305.50,509.50 212.50,509.50 212.50,441.50 188.20,441.50" fill="none" stroke="#000" stroke-width="1.0"/>
<line x1="305.30" y1="481.50" x2="334.10" y2="481.50" stroke="#000" stroke-width="1.0"/>
<line x1="305.30" y1="489.50" x2="334.10" y2="489.50" stroke="#000" stroke-width="1.0"/>
<circle cx="305.50" cy="481.50" r="1.7" fill="#000"/>
<circle cx="305.50" cy="489.50" r="1.7" fill="#000"/>
<polyline points="130.20,406.50 134.80,400.10 139.40,406.50" fill="none" stroke="#000" stroke-width="1.35"/>
<text x="131.60" y="397.40" font-size="7.8" font-family="Liberation Sans" text-anchor="start" fill="#000" textLength="14.6" lengthAdjust="spacingAndGlyphs" stroke="#000" stroke-width="0.2">+5V</text>
<rect x="163.40" y="408.20" width="24.80" height="49.10" fill="none" stroke="#000" stroke-width="1.8"/>
<text x="163.40" y="405.40" font-size="7.6" font-family="Liberation Sans" text-anchor="start" fill="#000" stroke="#000" stroke-width="0.2">SV2</text>
<rect x="166.20" y="415.30" width="5.70" height="2.20" fill="#000"/>
<rect x="178.90" y="415.30" width="6.30" height="2.20" fill="#000"/>
<text x="162.00" y="415.00" font-size="6.4" font-family="Liberation Sans" text-anchor="end" fill="#000" stroke="#000" stroke-width="0.2">10</text>
<text x="191.50" y="415.00" font-size="6.4" font-family="Liberation Sans" text-anchor="start" fill="#000" stroke="#000" stroke-width="0.2">9</text>
<line x1="142.90" y1="416.50" x2="163.40" y2="416.50" stroke="#000" stroke-width="1.0"/>
<rect x="166.20" y="423.40" width="5.70" height="2.20" fill="#000"/>
<rect x="178.90" y="423.40" width="6.30" height="2.20" fill="#000"/>
<text x="162.00" y="423.10" font-size="6.4" font-family="Liberation Sans" text-anchor="end" fill="#000" stroke="#000" stroke-width="0.2">8</text>
<text x="191.50" y="423.10" font-size="6.4" font-family="Liberation Sans" text-anchor="start" fill="#000" stroke="#000" stroke-width="0.2">7</text>
<line x1="142.90" y1="424.50" x2="163.40" y2="424.50" stroke="#000" stroke-width="1.0"/>
<rect x="166.20" y="431.40" width="5.70" height="2.20" fill="#000"/>
<rect x="178.90" y="431.40" width="6.30" height="2.20" fill="#000"/>
<text x="162.00" y="431.10" font-size="6.4" font-family="Liberation Sans" text-anchor="end" fill="#000" stroke="#000" stroke-width="0.2">6</text>
<text x="191.50" y="431.10" font-size="6.4" font-family="Liberation Sans" text-anchor="start" fill="#000" stroke="#000" stroke-width="0.2">5</text>
<line x1="142.90" y1="432.50" x2="163.40" y2="432.50" stroke="#000" stroke-width="1.0"/>
<rect x="166.20" y="439.90" width="5.70" height="2.20" fill="#000"/>
<rect x="178.90" y="439.90" width="6.30" height="2.20" fill="#000"/>
<text x="162.00" y="439.60" font-size="6.4" font-family="Liberation Sans" text-anchor="end" fill="#000" stroke="#000" stroke-width="0.2">4</text>
<text x="191.50" y="439.60" font-size="6.4" font-family="Liberation Sans" text-anchor="start" fill="#000" stroke="#000" stroke-width="0.2">3</text>
<line x1="142.90" y1="441.50" x2="163.40" y2="441.50" stroke="#000" stroke-width="1.0"/>
<rect x="166.20" y="447.70" width="5.70" height="2.20" fill="#000"/>
<rect x="178.90" y="447.70" width="6.30" height="2.20" fill="#000"/>
<text x="162.00" y="447.40" font-size="6.4" font-family="Liberation Sans" text-anchor="end" fill="#000" stroke="#000" stroke-width="0.2">2</text>
<text x="191.50" y="447.40" font-size="6.4" font-family="Liberation Sans" text-anchor="start" fill="#000" stroke="#000" stroke-width="0.2">1</text>
<line x1="142.90" y1="448.50" x2="163.40" y2="448.50" stroke="#000" stroke-width="1.0"/>
<circle cx="142.50" cy="424.50" r="1.7" fill="#000"/>
<circle cx="142.50" cy="432.50" r="1.7" fill="#000"/>
<circle cx="142.50" cy="441.50" r="1.7" fill="#000"/>
<line x1="142.50" y1="416.40" x2="142.50" y2="469.70" stroke="#000" stroke-width="1.0"/>
<line x1="136.60" y1="469.50" x2="149.60" y2="469.50" stroke="#000" stroke-width="1.3"/>
<polyline points="188.20,424.50 248.10,424.50" fill="none" stroke="#000" stroke-width="1.0"/>
<line x1="188.20" y1="432.50" x2="220.60" y2="432.50" stroke="#000" stroke-width="1.0"/>
<text x="204.30" y="432.20" font-size="8.0" font-family="Liberation Sans" text-anchor="start" fill="#000" textLength="16" lengthAdjust="spacingAndGlyphs" stroke="#000" stroke-width="0.2">RST</text>
<line x1="188.20" y1="448.50" x2="273.30" y2="448.50" stroke="#000" stroke-width="1.0"/>
<polyline points="228.10,471.20 232.70,465.60 237.30,471.20" fill="none" stroke="#000" stroke-width="1.35"/>
<text x="229.60" y="463.00" font-size="7.8" font-family="Liberation Sans" text-anchor="start" fill="#000" textLength="14.6" lengthAdjust="spacingAndGlyphs" stroke="#000" stroke-width="0.2">+5V</text>
<line x1="232.50" y1="465.60" x2="232.50" y2="509.90" stroke="#000" stroke-width="1.0"/>
<rect x="229.50" y="481.50" width="6.00" height="16.00" fill="#fff" stroke="#000" stroke-width="1.0"/>
<text x="226.00" y="501.90" font-size="7.6" font-family="Liberation Sans" text-anchor="start" fill="#000" transform="rotate(-90 226.00 501.90)" stroke="#000" stroke-width="0.2">R3</text>
<circle cx="212.50" cy="509.50" r="1.7" fill="#000"/>
<circle cx="232.50" cy="509.50" r="1.7" fill="#000"/>
<rect x="193.60" y="515.60" width="3.80" height="13.00" fill="#000"/>
<line x1="187.60" y1="517.50" x2="194.00" y2="517.50" stroke="#000" stroke-width="1.0"/>
<line x1="187.60" y1="525.50" x2="194.00" y2="525.50" stroke="#000" stroke-width="1.0"/>
<polyline points="196.90,517.50 212.50,517.50 212.50,509.90" fill="none" stroke="#000" stroke-width="1.0"/>
<polyline points="196.90,525.50 212.50,525.50 212.50,538.30" fill="none" stroke="#000" stroke-width="1.0"/>
<line x1="205.50" y1="538.50" x2="218.90" y2="538.50" stroke="#000" stroke-width="1.3"/>
<text x="197.80" y="516.00" font-size="6.4" font-family="Liberation Sans" text-anchor="start" fill="#000" stroke="#000" stroke-width="0.2">2</text>
<text x="197.80" y="524.90" font-size="6.4" font-family="Liberation Sans" text-anchor="start" fill="#000" stroke="#000" stroke-width="0.2">1</text>
<text x="173.00" y="536.00" font-size="7.6" font-family="Liberation Sans" text-anchor="start" fill="#000" stroke="#000" stroke-width="0.2">PROG</text>
<rect x="696.00" y="298.60" width="24.40" height="171.30" fill="none" stroke="#000" stroke-width="1.6"/>
<text x="695.90" y="295.90" font-size="7.6" font-family="Liberation Sans" text-anchor="start" fill="#000" stroke="#000" stroke-width="0.2">SV1</text>
<rect x="699.00" y="305.90" width="5.70" height="2.20" fill="#000"/>
<rect x="711.40" y="305.90" width="5.60" height="2.20" fill="#000"/>
<line x1="683.20" y1="307.50" x2="695.90" y2="307.50" stroke="#000" stroke-width="1.0"/>
<line x1="720.20" y1="307.50" x2="732.60" y2="307.50" stroke="#000" stroke-width="1.0"/>
<text x="692.70" y="305.40" font-size="6.4" font-family="Liberation Sans" text-anchor="end" fill="#000" stroke="#000" stroke-width="0.2">40</text>
<text x="723.80" y="305.40" font-size="6.4" font-family="Liberation Sans" text-anchor="start" fill="#000" stroke="#000" stroke-width="0.2">39</text>
<rect x="699.00" y="314.05" width="5.70" height="2.20" fill="#000"/>
<rect x="711.40" y="314.05" width="5.60" height="2.20" fill="#000"/>
<line x1="683.20" y1="315.50" x2="695.90" y2="315.50" stroke="#000" stroke-width="1.0"/>
<line x1="720.20" y1="315.50" x2="732.60" y2="315.50" stroke="#000" stroke-width="1.0"/>
<text x="692.70" y="313.55" font-size="6.4" font-family="Liberation Sans" text-anchor="end" fill="#000" stroke="#000" stroke-width="0.2">38</text>
<text x="723.80" y="313.55" font-size="6.4" font-family="Liberation Sans" text-anchor="start" fill="#000" stroke="#000" stroke-width="0.2">37</text>
<rect x="699.00" y="322.20" width="5.70" height="2.20" fill="#000"/>
<rect x="711.40" y="322.20" width="5.60" height="2.20" fill="#000"/>
<line x1="663.80" y1="323.50" x2="695.90" y2="323.50" stroke="#000" stroke-width="1.0"/>
<text x="663.80" y="323.10" font-size="8.2" font-family="Liberation Sans" text-anchor="start" fill="#000" stroke="#000" stroke-width="0.2">PF0</text>
<line x1="720.20" y1="323.50" x2="752.70" y2="323.50" stroke="#000" stroke-width="1.0"/>
<text x="752.90" y="323.10" font-size="8.2" font-family="Liberation Sans" text-anchor="end" fill="#000" stroke="#000" stroke-width="0.2">PF1</text>
<text x="692.70" y="321.70" font-size="6.4" font-family="Liberation Sans" text-anchor="end" fill="#000" stroke="#000" stroke-width="0.2">36</text>
<text x="723.80" y="321.70" font-size="6.4" font-family="Liberation Sans" text-anchor="start" fill="#000" stroke="#000" stroke-width="0.2">35</text>
<rect x="699.00" y="330.35" width="5.70" height="2.20" fill="#000"/>
<rect x="711.40" y="330.35" width="5.60" height="2.20" fill="#000"/>
<line x1="663.80" y1="331.50" x2="695.90" y2="331.50" stroke="#000" stroke-width="1.0"/>
<text x="663.80" y="331.25" font-size="8.2" font-family="Liberation Sans" text-anchor="start" fill="#000" stroke="#000" stroke-width="0.2">PF2</text>
<line x1="720.20" y1="331.50" x2="752.70" y2="331.50" stroke="#000" stroke-width="1.0"/>
<text x="752.90" y="331.25" font-size="8.2" font-family="Liberation Sans" text-anchor="end" fill="#000" stroke="#000" stroke-width="0.2">PF3</text>
<text x="692.70" y="329.85" font-size="6.4" font-family="Liberation Sans" text-anchor="end" fill="#000" stroke="#000" stroke-width="0.2">34</text>
<text x="723.80" y="329.85" font-size="6.4" font-family="Liberation Sans" text-anchor="start" fill="#000" stroke="#000" stroke-width="0.2">33</text>
<rect x="699.00" y="338.50" width="5.70" height="2.20" fill="#000"/>
<rect x="711.40" y="338.50" width="5.60" height="2.20" fill="#000"/>
<line x1="663.80" y1="339.50" x2="695.90" y2="339.50" stroke="#000" stroke-width="1.0"/>
<text x="663.80" y="339.40" font-size="8.2" font-family="Liberation Sans" text-anchor="start" fill="#000" stroke="#000" stroke-width="0.2">PF4</text>
<line x1="720.20" y1="339.50" x2="752.70" y2="339.50" stroke="#000" stroke-width="1.0"/>
<text x="752.90" y="339.40" font-size="8.2" font-family="Liberation Sans" text-anchor="end" fill="#000" stroke="#000" stroke-width="0.2">PF5</text>
<text x="692.70" y="338.00" font-size="6.4" font-family="Liberation Sans" text-anchor="end" fill="#000" stroke="#000" stroke-width="0.2">32</text>
<text x="723.80" y="338.00" font-size="6.4" font-family="Liberation Sans" text-anchor="start" fill="#000" stroke="#000" stroke-width="0.2">31</text>
<rect x="699.00" y="346.65" width="5.70" height="2.20" fill="#000"/>
<rect x="711.40" y="346.65" width="5.60" height="2.20" fill="#000"/>
<line x1="663.80" y1="347.50" x2="695.90" y2="347.50" stroke="#000" stroke-width="1.0"/>
<text x="663.80" y="347.55" font-size="8.2" font-family="Liberation Sans" text-anchor="start" fill="#000" stroke="#000" stroke-width="0.2">PF6</text>
<line x1="720.20" y1="347.50" x2="752.70" y2="347.50" stroke="#000" stroke-width="1.0"/>
<text x="752.90" y="347.55" font-size="8.2" font-family="Liberation Sans" text-anchor="end" fill="#000" stroke="#000" stroke-width="0.2">PF7</text>
<text x="692.70" y="346.15" font-size="6.4" font-family="Liberation Sans" text-anchor="end" fill="#000" stroke="#000" stroke-width="0.2">30</text>
<text x="723.80" y="346.15" font-size="6.4" font-family="Liberation Sans" text-anchor="start" fill="#000" stroke="#000" stroke-width="0.2">29</text>
<rect x="699.00" y="354.80" width="5.70" height="2.20" fill="#000"/>
<rect x="711.40" y="354.80" width="5.60" height="2.20" fill="#000"/>
<line x1="663.80" y1="355.50" x2="695.90" y2="355.50" stroke="#000" stroke-width="1.0"/>
<text x="663.80" y="355.70" font-size="8.2" font-family="Liberation Sans" text-anchor="start" fill="#000" stroke="#000" stroke-width="0.2">PB0</text>
<line x1="720.20" y1="355.50" x2="752.70" y2="355.50" stroke="#000" stroke-width="1.0"/>
<text x="752.90" y="355.70" font-size="8.2" font-family="Liberation Sans" text-anchor="end" fill="#000" stroke="#000" stroke-width="0.2">PB1</text>
<text x="692.70" y="354.30" font-size="6.4" font-family="Liberation Sans" text-anchor="end" fill="#000" stroke="#000" stroke-width="0.2">28</text>
<text x="723.80" y="354.30" font-size="6.4" font-family="Liberation Sans" text-anchor="start" fill="#000" stroke="#000" stroke-width="0.2">27</text>
<rect x="699.00" y="362.95" width="5.70" height="2.20" fill="#000"/>
<rect x="711.40" y="362.95" width="5.60" height="2.20" fill="#000"/>
<line x1="663.80" y1="364.50" x2="695.90" y2="364.50" stroke="#000" stroke-width="1.0"/>
<text x="663.80" y="363.85" font-size="8.2" font-family="Liberation Sans" text-anchor="start" fill="#000" stroke="#000" stroke-width="0.2">PB2</text>
<line x1="720.20" y1="364.50" x2="752.70" y2="364.50" stroke="#000" stroke-width="1.0"/>
<text x="752.90" y="363.85" font-size="8.2" font-family="Liberation Sans" text-anchor="end" fill="#000" stroke="#000" stroke-width="0.2">PB3</text>
<text x="692.70" y="362.45" font-size="6.4" font-family="Liberation Sans" text-anchor="end" fill="#000" stroke="#000" stroke-width="0.2">26</text>
<text x="723.80" y="362.45" font-size="6.4" font-family="Liberation Sans" text-anchor="start" fill="#000" stroke="#000" stroke-width="0.2">25</text>
<rect x="699.00" y="371.10" width="5.70" height="2.20" fill="#000"/>
<rect x="711.40" y="371.10" width="5.60" height="2.20" fill="#000"/>
<line x1="663.80" y1="372.50" x2="695.90" y2="372.50" stroke="#000" stroke-width="1.0"/>
<text x="663.80" y="372.00" font-size="8.2" font-family="Liberation Sans" text-anchor="start" fill="#000" stroke="#000" stroke-width="0.2">GND</text>
<line x1="720.20" y1="372.50" x2="752.70" y2="372.50" stroke="#000" stroke-width="1.0"/>
<text x="752.90" y="372.00" font-size="8.2" font-family="Liberation Sans" text-anchor="end" fill="#000" stroke="#000" stroke-width="0.2">RST</text>
<text x="692.70" y="370.60" font-size="6.4" font-family="Liberation Sans" text-anchor="end" fill="#000" stroke="#000" stroke-width="0.2">24</text>
<text x="723.80" y="370.60" font-size="6.4" font-family="Liberation Sans" text-anchor="start" fill="#000" stroke="#000" stroke-width="0.2">23</text>
<rect x="699.00" y="379.25" width="5.70" height="2.20" fill="#000"/>
<rect x="711.40" y="379.25" width="5.60" height="2.20" fill="#000"/>
<line x1="663.80" y1="380.50" x2="695.90" y2="380.50" stroke="#000" stroke-width="1.0"/>
<text x="663.80" y="380.15" font-size="8.2" font-family="Liberation Sans" text-anchor="start" fill="#000" stroke="#000" stroke-width="0.2">PB7</text>
<line x1="720.20" y1="380.50" x2="752.70" y2="380.50" stroke="#000" stroke-width="1.0"/>
<text x="752.90" y="380.15" font-size="8.2" font-family="Liberation Sans" text-anchor="end" fill="#000" stroke="#000" stroke-width="0.2">PB6</text>
<text x="692.70" y="378.75" font-size="6.4" font-family="Liberation Sans" text-anchor="end" fill="#000" stroke="#000" stroke-width="0.2">22</text>
<text x="723.80" y="378.75" font-size="6.4" font-family="Liberation Sans" text-anchor="start" fill="#000" stroke="#000" stroke-width="0.2">21</text>
<rect x="699.00" y="387.40" width="5.70" height="2.20" fill="#000"/>
<rect x="711.40" y="387.40" width="5.60" height="2.20" fill="#000"/>
<line x1="663.80" y1="388.50" x2="695.90" y2="388.50" stroke="#000" stroke-width="1.0"/>
<text x="663.80" y="388.30" font-size="8.2" font-family="Liberation Sans" text-anchor="start" fill="#000" stroke="#000" stroke-width="0.2">PD7</text>
<line x1="720.20" y1="388.50" x2="752.70" y2="388.50" stroke="#000" stroke-width="1.0"/>
<text x="752.90" y="388.30" font-size="8.2" font-family="Liberation Sans" text-anchor="end" fill="#000" stroke="#000" stroke-width="0.2">PD6</text>
<text x="692.70" y="386.90" font-size="6.4" font-family="Liberation Sans" text-anchor="end" fill="#000" stroke="#000" stroke-width="0.2">20</text>
<text x="723.80" y="386.90" font-size="6.4" font-family="Liberation Sans" text-anchor="start" fill="#000" stroke="#000" stroke-width="0.2">19</text>
<rect x="699.00" y="395.55" width="5.70" height="2.20" fill="#000"/>
<rect x="711.40" y="395.55" width="5.60" height="2.20" fill="#000"/>
<line x1="663.80" y1="396.50" x2="695.90" y2="396.50" stroke="#000" stroke-width="1.0"/>
<text x="663.80" y="396.45" font-size="8.2" font-family="Liberation Sans" text-anchor="start" fill="#000" stroke="#000" stroke-width="0.2">PD5</text>
<line x1="720.20" y1="396.50" x2="752.70" y2="396.50" stroke="#000" stroke-width="1.0"/>
<text x="752.90" y="396.45" font-size="8.2" font-family="Liberation Sans" text-anchor="end" fill="#000" stroke="#000" stroke-width="0.2">PD4</text>
<text x="692.70" y="395.05" font-size="6.4" font-family="Liberation Sans" text-anchor="end" fill="#000" stroke="#000" stroke-width="0.2">18</text>
<text x="723.80" y="395.05" font-size="6.4" font-family="Liberation Sans" text-anchor="start" fill="#000" stroke="#000" stroke-width="0.2">17</text>
<rect x="699.00" y="403.70" width="5.70" height="2.20" fill="#000"/>
<rect x="711.40" y="403.70" width="5.60" height="2.20" fill="#000"/>
<line x1="663.80" y1="404.50" x2="695.90" y2="404.50" stroke="#000" stroke-width="1.0"/>
<text x="663.80" y="404.60" font-size="8.2" font-family="Liberation Sans" text-anchor="start" fill="#000" stroke="#000" stroke-width="0.2">PD3</text>
<line x1="720.20" y1="404.50" x2="752.70" y2="404.50" stroke="#000" stroke-width="1.0"/>
<text x="752.90" y="404.60" font-size="8.2" font-family="Liberation Sans" text-anchor="end" fill="#000" stroke="#000" stroke-width="0.2">PD2</text>
<text x="692.70" y="403.20" font-size="6.4" font-family="Liberation Sans" text-anchor="end" fill="#000" stroke="#000" stroke-width="0.2">16</text>
<text x="723.80" y="403.20" font-size="6.4" font-family="Liberation Sans" text-anchor="start" fill="#000" stroke="#000" stroke-width="0.2">15</text>
<rect x="699.00" y="411.85" width="5.70" height="2.20" fill="#000"/>
<rect x="711.40" y="411.85" width="5.60" height="2.20" fill="#000"/>
<line x1="663.80" y1="412.50" x2="695.90" y2="412.50" stroke="#000" stroke-width="1.0"/>
<text x="663.80" y="412.75" font-size="8.2" font-family="Liberation Sans" text-anchor="start" fill="#000" stroke="#000" stroke-width="0.2">PD1</text>
<line x1="720.20" y1="412.50" x2="752.70" y2="412.50" stroke="#000" stroke-width="1.0"/>
<text x="752.90" y="412.75" font-size="8.2" font-family="Liberation Sans" text-anchor="end" fill="#000" stroke="#000" stroke-width="0.2">PD0</text>
<text x="692.70" y="411.35" font-size="6.4" font-family="Liberation Sans" text-anchor="end" fill="#000" stroke="#000" stroke-width="0.2">14</text>
<text x="723.80" y="411.35" font-size="6.4" font-family="Liberation Sans" text-anchor="start" fill="#000" stroke="#000" stroke-width="0.2">13</text>
<rect x="699.00" y="420.00" width="5.70" height="2.20" fill="#000"/>
<rect x="711.40" y="420.00" width="5.60" height="2.20" fill="#000"/>
<line x1="663.80" y1="421.50" x2="695.90" y2="421.50" stroke="#000" stroke-width="1.0"/>
<text x="663.80" y="420.90" font-size="8.2" font-family="Liberation Sans" text-anchor="start" fill="#000" stroke="#000" stroke-width="0.2">+5V</text>
<line x1="720.20" y1="421.50" x2="752.70" y2="421.50" stroke="#000" stroke-width="1.0"/>
<text x="752.90" y="420.90" font-size="8.2" font-family="Liberation Sans" text-anchor="end" fill="#000" stroke="#000" stroke-width="0.2">PE4</text>
<text x="692.70" y="419.50" font-size="6.4" font-family="Liberation Sans" text-anchor="end" fill="#000" stroke="#000" stroke-width="0.2">12</text>
<text x="723.80" y="419.50" font-size="6.4" font-family="Liberation Sans" text-anchor="start" fill="#000" stroke="#000" stroke-width="0.2">11</text>
<rect x="699.00" y="428.15" width="5.70" height="2.20" fill="#000"/>
<rect x="711.40" y="428.15" width="5.60" height="2.20" fill="#000"/>
<line x1="663.80" y1="429.50" x2="695.90" y2="429.50" stroke="#000" stroke-width="1.0"/>
<text x="663.80" y="429.05" font-size="8.2" font-family="Liberation Sans" text-anchor="start" fill="#000" stroke="#000" stroke-width="0.2">RTS</text>
<line x1="720.20" y1="429.50" x2="752.70" y2="429.50" stroke="#000" stroke-width="1.0"/>
<text x="752.90" y="429.05" font-size="8.2" font-family="Liberation Sans" text-anchor="end" fill="#000" stroke="#000" stroke-width="0.2">CTS</text>
<text x="692.70" y="427.65" font-size="6.4" font-family="Liberation Sans" text-anchor="end" fill="#000" stroke="#000" stroke-width="0.2">10</text>
<text x="723.80" y="427.65" font-size="6.4" font-family="Liberation Sans" text-anchor="start" fill="#000" stroke="#000" stroke-width="0.2">9</text>
<rect x="699.00" y="436.30" width="5.70" height="2.20" fill="#000"/>
<rect x="711.40" y="436.30" width="5.60" height="2.20" fill="#000"/>
<line x1="663.80" y1="437.50" x2="695.90" y2="437.50" stroke="#000" stroke-width="1.0"/>
<text x="663.80" y="437.20" font-size="8.2" font-family="Liberation Sans" text-anchor="start" fill="#000" stroke="#000" stroke-width="0.2">TXD</text>
<line x1="720.20" y1="437.50" x2="752.70" y2="437.50" stroke="#000" stroke-width="1.0"/>
<text x="752.90" y="437.20" font-size="8.2" font-family="Liberation Sans" text-anchor="end" fill="#000" stroke="#000" stroke-width="0.2">RXD</text>
<text x="692.70" y="435.80" font-size="6.4" font-family="Liberation Sans" text-anchor="end" fill="#000" stroke="#000" stroke-width="0.2">8</text>
<text x="723.80" y="435.80" font-size="6.4" font-family="Liberation Sans" text-anchor="start" fill="#000" stroke="#000" stroke-width="0.2">7</text>
<rect x="699.00" y="444.45" width="5.70" height="2.20" fill="#000"/>
<rect x="711.40" y="444.45" width="5.60" height="2.20" fill="#000"/>
<line x1="663.80" y1="445.50" x2="695.90" y2="445.50" stroke="#000" stroke-width="1.0"/>
<text x="663.80" y="445.35" font-size="8.2" font-family="Liberation Sans" text-anchor="start" fill="#000" stroke="#000" stroke-width="0.2">GND</text>
<line x1="720.20" y1="445.50" x2="752.70" y2="445.50" stroke="#000" stroke-width="1.0"/>
<text x="752.90" y="445.35" font-size="8.2" font-family="Liberation Sans" text-anchor="end" fill="#000" stroke="#000" stroke-width="0.2">LINK</text>
<text x="692.70" y="443.95" font-size="6.4" font-family="Liberation Sans" text-anchor="end" fill="#000" stroke="#000" stroke-width="0.2">6</text>
<text x="723.80" y="443.95" font-size="6.4" font-family="Liberation Sans" text-anchor="start" fill="#000" stroke="#000" stroke-width="0.2">5</text>
<rect x="699.00" y="452.60" width="5.70" height="2.20" fill="#000"/>
<rect x="711.40" y="452.60" width="5.60" height="2.20" fill="#000"/>
<line x1="683.20" y1="453.50" x2="695.90" y2="453.50" stroke="#000" stroke-width="1.0"/>
<line x1="720.20" y1="453.50" x2="732.60" y2="453.50" stroke="#000" stroke-width="1.0"/>
<text x="692.70" y="452.10" font-size="6.4" font-family="Liberation Sans" text-anchor="end" fill="#000" stroke="#000" stroke-width="0.2">4</text>
<text x="723.80" y="452.10" font-size="6.4" font-family="Liberation Sans" text-anchor="start" fill="#000" stroke="#000" stroke-width="0.2">3</text>
<rect x="699.00" y="460.75" width="5.70" height="2.20" fill="#000"/>
<rect x="711.40" y="460.75" width="5.60" height="2.20" fill="#000"/>
<line x1="683.20" y1="461.50" x2="695.90" y2="461.50" stroke="#000" stroke-width="1.0"/>
<line x1="720.20" y1="461.50" x2="732.60" y2="461.50" stroke="#000" stroke-width="1.0"/>
<text x="692.70" y="460.25" font-size="6.4" font-family="Liberation Sans" text-anchor="end" fill="#000" stroke="#000" stroke-width="0.2">2</text>
<text x="723.80" y="460.25" font-size="6.4" font-family="Liberation Sans" text-anchor="start" fill="#000" stroke="#000" stroke-width="0.2">1</text>
</svg></body></html>
